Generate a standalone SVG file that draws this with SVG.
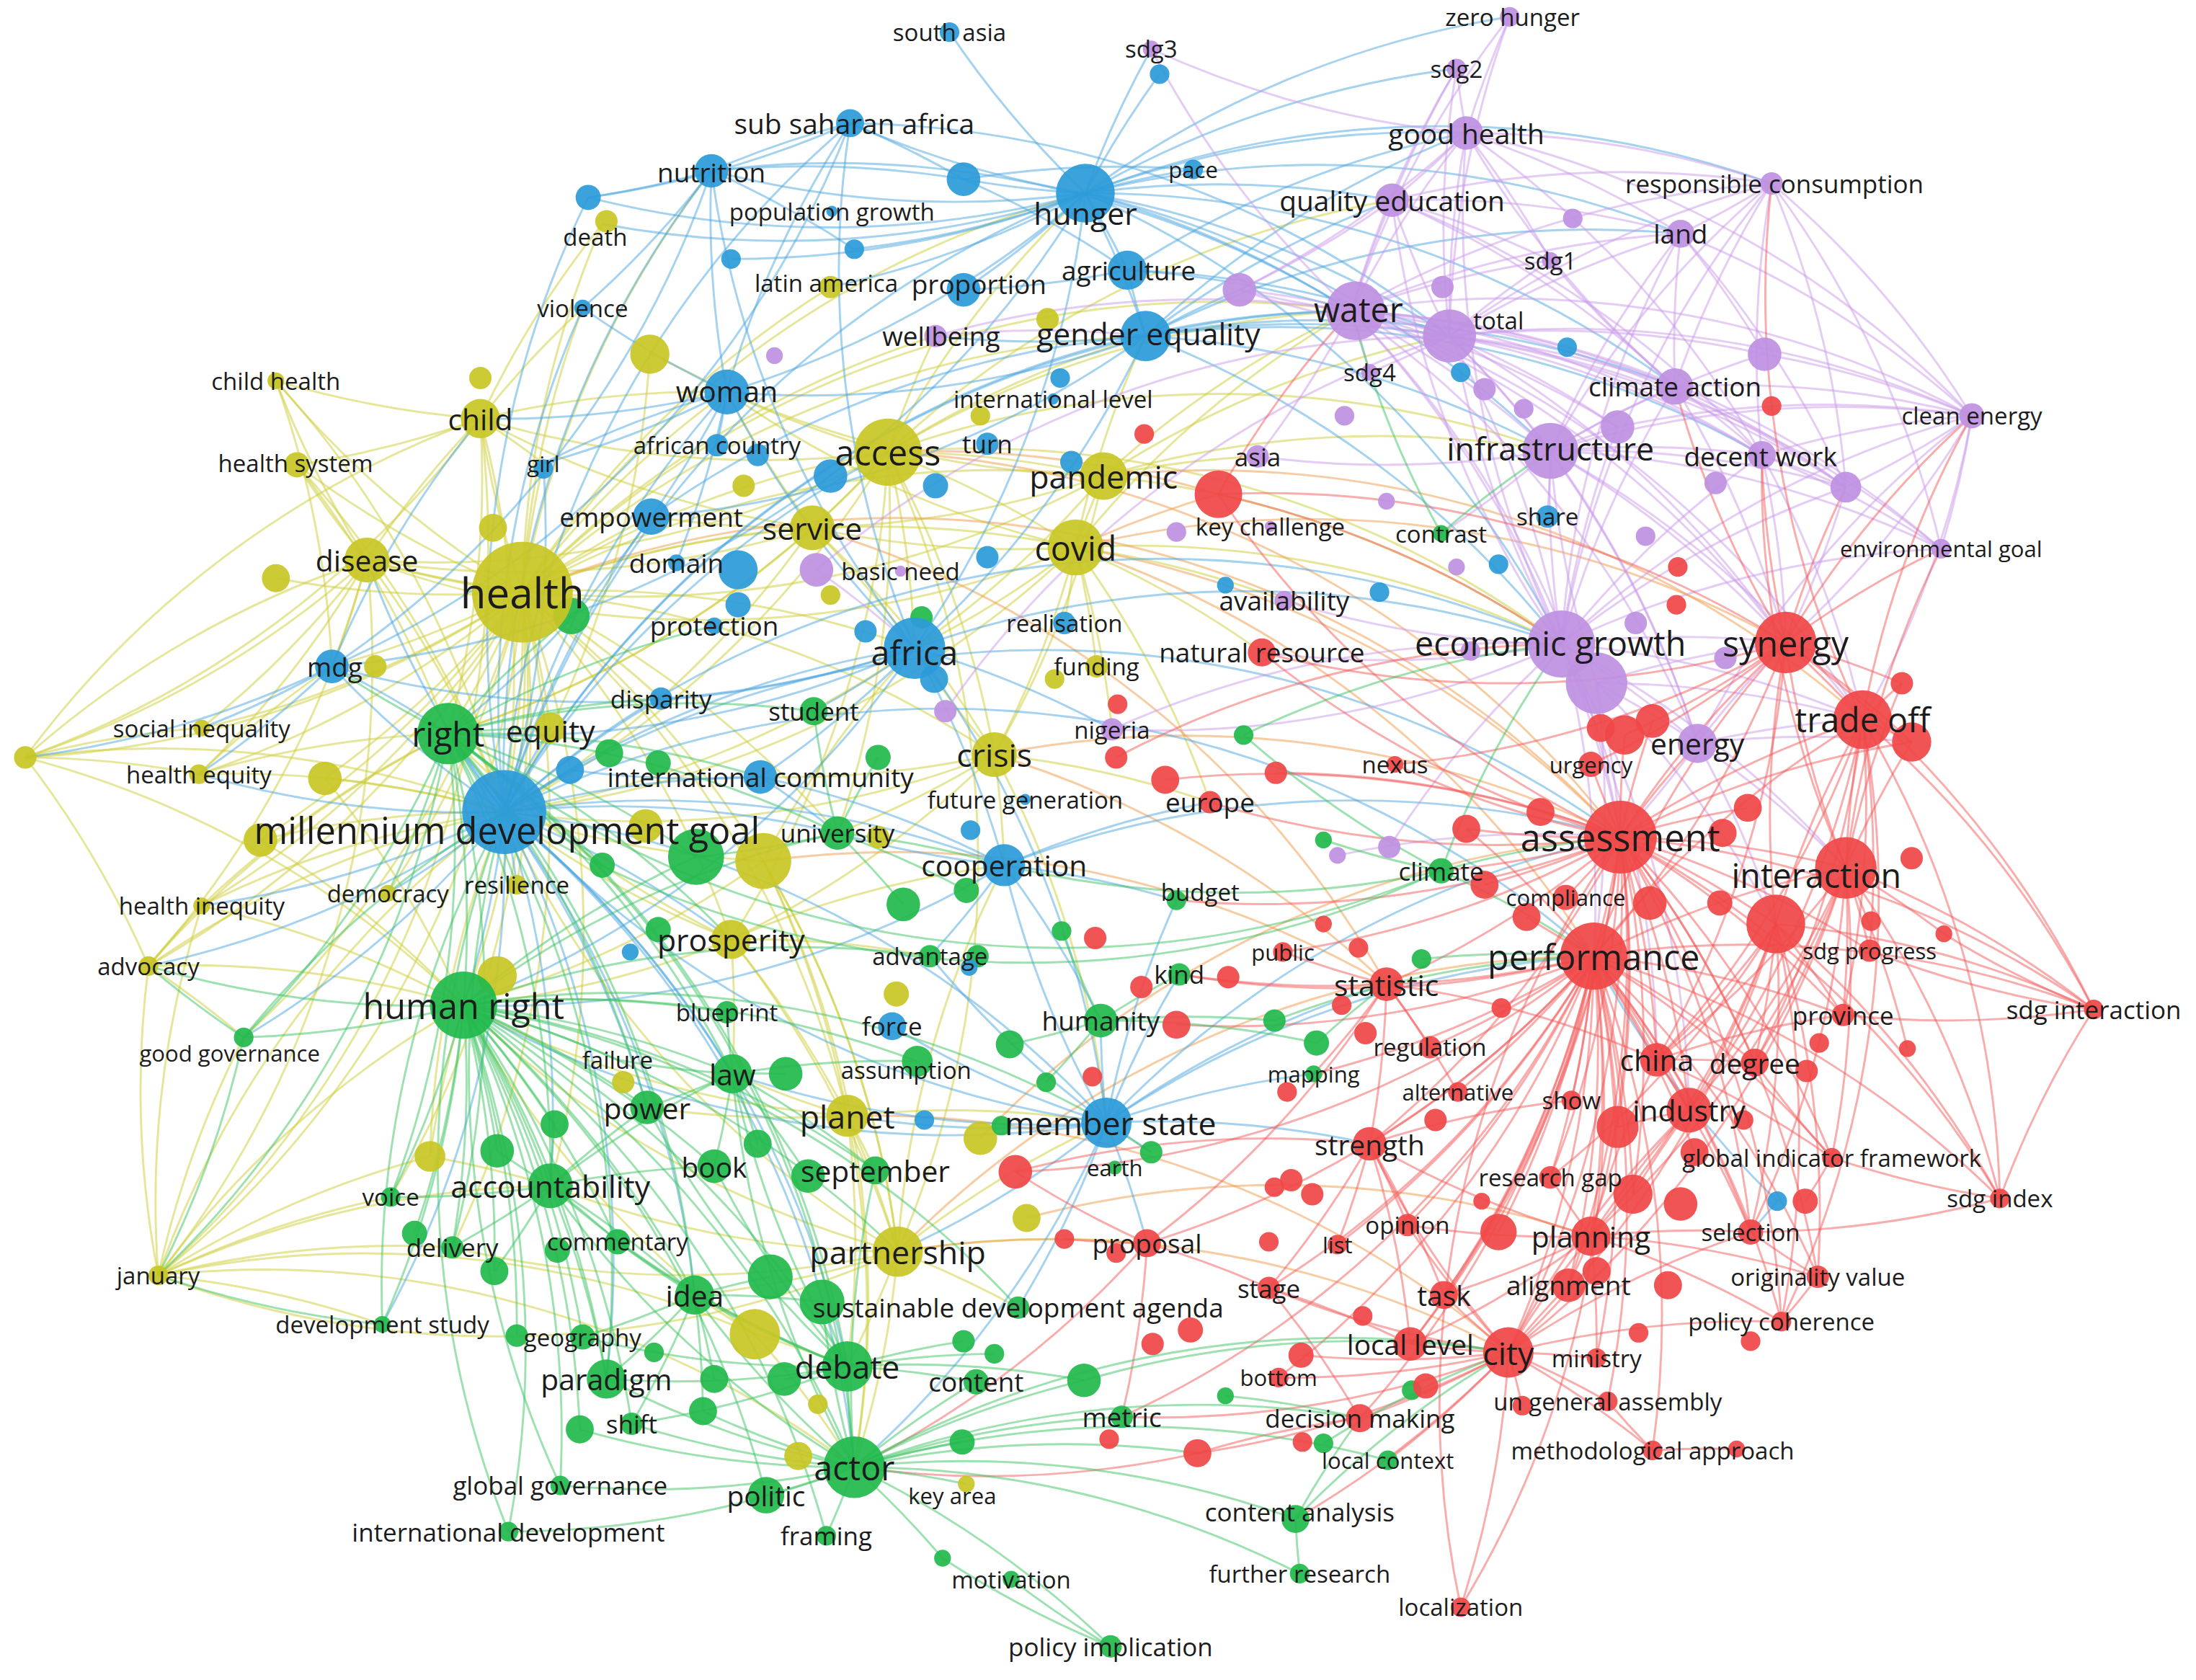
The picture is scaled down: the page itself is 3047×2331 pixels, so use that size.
<svg xmlns="http://www.w3.org/2000/svg" width="3047" height="2331" viewBox="0 0 3047 2331">
<style>
text{font-family:"Open Sans","DejaVu Sans",sans-serif;fill:#1c1c1c;text-anchor:middle;dominant-baseline:central}
circle{fill-opacity:.93}
.y circle{fill:#c8c626}
.g circle{fill:#22b94c}
.b circle{fill:#2c9bd9}
.p circle{fill:#bf91e2}
.r circle{fill:#f04747}
#connectors path{fill:none;stroke-width:1.5;stroke-opacity:.5}
.ey path{stroke:#cdcd38}
.eo path{stroke:#f29a45}
.eb path{stroke:#4aa6e0}
.ep path{stroke:#c99aea}
.er path{stroke:#f45a5a}
.eg path{stroke:#3cc462}
</style>
<rect width="3047" height="2331" fill="#fff"/>
<g transform="scale(1.9432,1.9425)" font-size="17">
<g id="connectors">
<g class="ey">
<path d="M373 423A700 700 0 0 1 343 299"/><path d="M373 423A700 700 0 0 1 262 400"/><path d="M373 423A700 700 0 0 1 237 476"/><path d="M373 423A700 700 0 0 1 320 524"/><path d="M373 423A700 700 0 0 1 393 520"/><path d="M373 423A700 700 0 0 1 360 580"/><path d="M373 423A700 700 0 0 1 331 718"/><path d="M373 423A700 700 0 0 1 634 323"/><path d="M373 423A700 700 0 0 1 580 377"/><path d="M373 423A700 700 0 0 1 768 391"/><path d="M373 423A700 700 0 0 1 788 340"/><path d="M373 423A700 700 0 0 1 212 332"/><path d="M373 423A700 700 0 0 1 197 272"/><path d="M373 423A700 700 0 0 1 144 520"/><path d="M373 423A700 700 0 0 1 142 553"/><path d="M373 423A700 700 0 0 1 144 647"/><path d="M373 423A700 700 0 0 1 106 690"/><path d="M373 423A700 700 0 0 1 113 911"/><path d="M373 423A700 700 0 0 1 174 741"/><path d="M373 423A700 700 0 0 1 519 280"/><path d="M373 423A700 700 0 0 1 430 160"/><path d="M373 423A700 700 0 0 1 416 220"/><path d="M373 423A700 700 0 0 1 710 539"/><path d="M373 423A700 700 0 0 1 653 463"/><path d="M373 423A700 700 0 0 1 393 847"/><path d="M373 423A700 700 0 0 1 605 797"/><path d="M373 423A700 700 0 0 1 641 894"/><path d="M373 423A700 700 0 0 1 522 671"/><path d="M373 423A700 700 0 0 1 668 240"/><path d="M373 423A700 700 0 0 1 818 240"/><path d="M373 423A700 700 0 0 1 18 541"/><path d="M373 423A700 700 0 0 1 965 222"/><path d="M373 423A700 700 0 0 1 775 138"/><path d="M373 423A700 700 0 0 1 508 122"/><path d="M373 423A700 700 0 0 1 465 369"/><path d="M373 423A700 700 0 0 1 472 499"/><path d="M373 423A700 700 0 0 1 277 638"/><path d="M373 423A700 700 0 0 1 279 855"/><path d="M373 423A700 700 0 0 1 323 891"/><path d="M373 423A700 700 0 0 1 598 595"/><path d="M373 423A700 700 0 0 1 369 632"/><path d="M373 423A700 700 0 0 1 388 331"/><path d="M373 423A700 700 0 0 1 593 205"/><path d="M373 423A700 700 0 0 1 232 556"/><path d="M373 423A700 700 0 0 1 186 600"/><path d="M373 423A700 700 0 0 1 197 413"/>
<path d="M634 323A700 700 0 0 1 768 391"/><path d="M634 323A700 700 0 0 1 788 340"/><path d="M634 323A700 700 0 0 1 580 377"/><path d="M634 323A700 700 0 0 1 519 280"/><path d="M634 323A700 700 0 0 1 775 138"/><path d="M634 323A700 700 0 0 1 818 240"/><path d="M634 323A700 700 0 0 1 965 222"/><path d="M634 323A700 700 0 0 1 653 463"/><path d="M634 323A700 700 0 0 1 1107 322"/><path d="M634 323A700 700 0 0 1 1115 460"/><path d="M634 323A700 700 0 0 1 262 400"/><path d="M634 323A700 700 0 0 1 320 524"/><path d="M634 323A700 700 0 0 1 360 580"/><path d="M634 323A700 700 0 0 1 710 539"/><path d="M634 323A700 700 0 0 1 522 671"/><path d="M634 323A700 700 0 0 1 598 595"/><path d="M634 323A700 700 0 0 1 641 894"/><path d="M634 323A700 700 0 0 1 668 240"/><path d="M634 323A700 700 0 0 1 994 143"/><path d="M634 323A700 700 0 0 1 343 299"/>
<path d="M768 391A700 700 0 0 1 788 340"/><path d="M768 391A700 700 0 0 1 710 539"/><path d="M768 391A700 700 0 0 1 580 377"/><path d="M768 391A700 700 0 0 1 653 463"/><path d="M768 391A700 700 0 0 1 783 476"/><path d="M768 391A700 700 0 0 1 760 445"/><path d="M768 391A700 700 0 0 1 901 466"/><path d="M768 391A700 700 0 0 1 864 573"/><path d="M768 391A700 700 0 0 1 794 521"/><path d="M768 391A700 700 0 0 1 1115 460"/><path d="M768 391A700 700 0 0 1 917 429"/><path d="M768 391A700 700 0 0 1 965 222"/><path d="M768 391A700 700 0 0 1 818 240"/><path d="M768 391A700 700 0 0 1 519 280"/><path d="M768 391A700 700 0 0 1 360 580"/><path d="M768 391A700 700 0 0 1 262 400"/>
<path d="M788 340A700 700 0 0 1 710 539"/><path d="M788 340A700 700 0 0 1 580 377"/><path d="M788 340A700 700 0 0 1 898 326"/><path d="M788 340A700 700 0 0 1 1115 460"/><path d="M788 340A700 700 0 0 1 519 280"/><path d="M788 340A700 700 0 0 1 262 400"/><path d="M788 340A700 700 0 0 1 360 580"/><path d="M788 340A700 700 0 0 1 1107 322"/><path d="M788 340A700 700 0 0 1 965 222"/><path d="M788 340A700 700 0 0 1 1035 240"/>
<path d="M580 377A700 700 0 0 1 519 280"/><path d="M580 377A700 700 0 0 1 465 369"/><path d="M580 377A700 700 0 0 1 360 580"/><path d="M580 377A700 700 0 0 1 262 400"/><path d="M580 377A700 700 0 0 1 653 463"/><path d="M580 377A700 700 0 0 1 710 539"/><path d="M580 377A700 700 0 0 1 343 299"/><path d="M580 377A700 700 0 0 1 320 524"/>
<path d="M262 400A700 700 0 0 1 343 299"/><path d="M262 400A700 700 0 0 1 212 332"/><path d="M262 400A700 700 0 0 1 197 272"/><path d="M262 400A700 700 0 0 1 237 476"/><path d="M262 400A700 700 0 0 1 360 580"/><path d="M262 400A700 700 0 0 1 18 541"/><path d="M262 400A700 700 0 0 1 142 553"/><path d="M262 400A700 700 0 0 1 106 690"/><path d="M262 400A700 700 0 0 1 113 911"/><path d="M262 400A700 700 0 0 1 144 520"/>
<path d="M343 299A700 700 0 0 1 197 272"/><path d="M343 299A700 700 0 0 1 212 332"/><path d="M343 299A700 700 0 0 1 388 331"/><path d="M343 299A700 700 0 0 1 519 280"/><path d="M343 299A700 700 0 0 1 416 220"/><path d="M343 299A700 700 0 0 1 430 160"/><path d="M343 299A700 700 0 0 1 360 580"/><path d="M343 299A700 700 0 0 1 320 524"/><path d="M343 299A700 700 0 0 1 113 911"/><path d="M343 299A700 700 0 0 1 18 541"/>
<path d="M710 539A700 700 0 0 1 653 463"/><path d="M710 539A700 700 0 0 1 543 555"/><path d="M710 539A700 700 0 0 1 717 618"/><path d="M710 539A700 700 0 0 1 790 802"/><path d="M710 539A700 700 0 0 1 864 573"/><path d="M710 539A700 700 0 0 1 598 595"/><path d="M710 539A700 700 0 0 1 522 671"/><path d="M710 539A700 700 0 0 1 360 580"/>
<path d="M522 671A700 700 0 0 1 605 797"/><path d="M522 671A700 700 0 0 1 641 894"/><path d="M522 671A700 700 0 0 1 331 718"/><path d="M522 671A700 700 0 0 1 360 580"/><path d="M522 671A700 700 0 0 1 717 618"/><path d="M522 671A700 700 0 0 1 664 683"/><path d="M522 671A700 700 0 0 1 523 767"/><path d="M522 671A700 700 0 0 1 320 524"/>
<path d="M605 797A700 700 0 0 1 641 894"/><path d="M605 797A700 700 0 0 1 625 836"/><path d="M605 797A700 700 0 0 1 610 1048"/><path d="M605 797A700 700 0 0 1 605 976"/><path d="M605 797A700 700 0 0 1 790 802"/><path d="M605 797A700 700 0 0 1 331 718"/><path d="M605 797A700 700 0 0 1 523 767"/><path d="M605 797A700 700 0 0 1 462 791"/>
<path d="M641 894A700 700 0 0 1 610 1048"/><path d="M641 894A700 700 0 0 1 605 976"/><path d="M641 894A700 700 0 0 1 727 934"/><path d="M641 894A700 700 0 0 1 496 925"/><path d="M641 894A700 700 0 0 1 790 802"/><path d="M641 894A700 700 0 0 1 717 618"/><path d="M641 894A700 700 0 0 1 360 580"/><path d="M641 894A700 700 0 0 1 331 718"/><path d="M641 894A700 700 0 0 1 393 847"/><path d="M641 894A700 700 0 0 1 819 888"/><path d="M641 894A700 700 0 0 1 113 911"/><path d="M641 894A700 700 0 0 1 323 891"/>
<path d="M113 911A700 700 0 0 1 331 718"/><path d="M113 911A700 700 0 0 1 360 580"/><path d="M113 911A700 700 0 0 1 106 690"/><path d="M113 911A700 700 0 0 1 174 741"/><path d="M113 911A700 700 0 0 1 393 847"/><path d="M113 911A700 700 0 0 1 307 826"/><path d="M113 911A700 700 0 0 1 323 891"/><path d="M113 911A700 700 0 0 1 279 855"/><path d="M113 911A700 700 0 0 1 273 946"/><path d="M113 911A700 700 0 0 1 144 647"/><path d="M113 911A700 700 0 0 1 539 953"/><path d="M113 911A700 700 0 0 1 610 1048"/>
<path d="M18 541A700 700 0 0 1 262 400"/><path d="M18 541A700 700 0 0 1 360 580"/><path d="M18 541A700 700 0 0 1 142 553"/><path d="M18 541A700 700 0 0 1 144 520"/><path d="M18 541A700 700 0 0 1 106 690"/><path d="M18 541A700 700 0 0 1 331 718"/><path d="M18 541A700 700 0 0 1 343 299"/>
<path d="M106 690A700 700 0 0 1 360 580"/><path d="M106 690A700 700 0 0 1 331 718"/><path d="M106 690A700 700 0 0 1 144 647"/><path d="M106 690A700 700 0 0 1 174 741"/><path d="M106 690A700 700 0 0 1 320 524"/>
<path d="M212 332A700 700 0 0 1 360 580"/><path d="M212 332A700 700 0 0 1 320 524"/><path d="M197 272A700 700 0 0 1 360 580"/><path d="M197 272A700 700 0 0 1 237 476"/><path d="M142 553A700 700 0 0 1 360 580"/><path d="M142 553A700 700 0 0 1 320 524"/><path d="M142 553A700 700 0 0 1 237 476"/><path d="M144 647A700 700 0 0 1 360 580"/><path d="M144 647A700 700 0 0 1 331 718"/><path d="M144 647A700 700 0 0 1 320 524"/>
<path d="M545 615A700 700 0 0 1 360 580"/><path d="M545 615A700 700 0 0 1 331 718"/><path d="M545 615A700 700 0 0 1 605 797"/><path d="M545 615A700 700 0 0 1 641 894"/><path d="M545 615A700 700 0 0 1 610 1048"/><path d="M545 615A700 700 0 0 1 653 463"/><path d="M539 953A700 700 0 0 1 610 1048"/><path d="M539 953A700 700 0 0 1 605 976"/><path d="M539 953A700 700 0 0 1 331 718"/><path d="M539 953A700 700 0 0 1 496 925"/><path d="M464 253A700 700 0 0 1 519 280"/><path d="M464 253A700 700 0 0 1 360 580"/><path d="M307 826A700 700 0 0 1 331 718"/><path d="M307 826A700 700 0 0 1 360 580"/><path d="M307 826A700 700 0 0 1 393 847"/><path d="M232 556A700 700 0 0 1 360 580"/><path d="M232 556A700 700 0 0 1 331 718"/><path d="M186 600A700 700 0 0 1 331 718"/><path d="M186 600A700 700 0 0 1 360 580"/>
</g>
<g class="eo">
<path d="M634 323A700 700 0 0 1 1157 598"/><path d="M768 391A700 700 0 0 1 1138 683"/><path d="M641 894A700 700 0 0 1 1138 683"/><path d="M710 539A700 700 0 0 1 1157 598"/><path d="M788 340A700 700 0 0 1 1330 514"/><path d="M605 797A700 700 0 0 1 1077 966"/><path d="M768 391A700 700 0 0 1 1275 459"/><path d="M580 377A700 700 0 0 1 990 703"/><path d="M710 539A700 700 0 0 1 990 703"/><path d="M641 894A700 700 0 0 1 1077 966"/><path d="M733 870A700 700 0 0 1 1136 883"/><path d="M700 813A700 700 0 0 1 1157 598"/><path d="M634 323A700 700 0 0 1 870 353"/><path d="M768 391A700 700 0 0 1 870 353"/><path d="M545 615A700 700 0 0 1 990 703"/><path d="M373 423A700 700 0 0 1 1157 598"/><path d="M768 391A700 700 0 0 1 1157 598"/>
</g>
<g class="eb">
<path d="M360 580A700 700 0 0 1 237 476"/><path d="M360 580A700 700 0 0 1 775 138"/><path d="M360 580A700 700 0 0 1 508 122"/><path d="M360 580A700 700 0 0 1 607 88"/><path d="M360 580A700 700 0 0 1 653 463"/><path d="M360 580A700 700 0 0 1 519 280"/><path d="M360 580A700 700 0 0 1 818 240"/><path d="M360 580A700 700 0 0 1 320 524"/><path d="M360 580A700 700 0 0 1 331 718"/><path d="M360 580A700 700 0 0 1 393 520"/><path d="M360 580A700 700 0 0 1 262 400"/><path d="M360 580A700 700 0 0 1 142 553"/><path d="M360 580A700 700 0 0 1 369 632"/><path d="M360 580A700 700 0 0 1 598 595"/><path d="M360 580A700 700 0 0 1 717 618"/><path d="M360 580A700 700 0 0 1 790 802"/><path d="M360 580A700 700 0 0 1 393 847"/><path d="M360 580A700 700 0 0 1 433 985"/><path d="M360 580A700 700 0 0 1 605 976"/><path d="M360 580A700 700 0 0 1 610 1048"/><path d="M360 580A700 700 0 0 1 523 767"/><path d="M360 580A700 700 0 0 1 462 791"/><path d="M360 580A700 700 0 0 1 496 925"/><path d="M360 580A700 700 0 0 1 1157 598"/><path d="M360 580A700 700 0 0 1 1138 683"/><path d="M360 580A700 700 0 0 1 1115 460"/><path d="M360 580A700 700 0 0 1 543 555"/><path d="M360 580A700 700 0 0 1 522 671"/><path d="M360 580A700 700 0 0 1 277 638"/><path d="M360 580A700 700 0 0 1 106 690"/><path d="M360 580A700 700 0 0 1 174 741"/><path d="M360 580A700 700 0 0 1 273 946"/><path d="M360 580A700 700 0 0 1 407 550"/><path d="M360 580A700 700 0 0 1 465 369"/><path d="M360 580A700 700 0 0 1 472 499"/><path d="M360 580A700 700 0 0 1 416 220"/><path d="M360 580A700 700 0 0 1 420 141"/><path d="M360 580A700 700 0 0 1 144 647"/><path d="M360 580A700 700 0 0 1 965 222"/><path d="M360 580A700 700 0 0 1 634 323"/>
<path d="M775 138A700 700 0 0 1 678 23"/><path d="M775 138A700 700 0 0 1 828 53"/><path d="M775 138A700 700 0 0 1 607 88"/><path d="M775 138A700 700 0 0 1 508 122"/><path d="M775 138A700 700 0 0 1 610 178"/><path d="M775 138A700 700 0 0 1 688 207"/><path d="M775 138A700 700 0 0 1 805 193"/><path d="M775 138A700 700 0 0 1 818 240"/><path d="M775 138A700 700 0 0 1 965 222"/><path d="M775 138A700 700 0 0 1 994 143"/><path d="M775 138A700 700 0 0 1 1047 95"/><path d="M775 138A700 700 0 0 1 1078 12"/><path d="M775 138A700 700 0 0 1 1040 49"/><path d="M775 138A700 700 0 0 1 852 121"/><path d="M775 138A700 700 0 0 1 653 463"/><path d="M775 138A700 700 0 0 1 593 205"/><path d="M775 138A700 700 0 0 1 519 280"/><path d="M775 138A700 700 0 0 1 1115 460"/><path d="M775 138A700 700 0 0 1 1107 322"/><path d="M775 138A700 700 0 0 1 1200 167"/><path d="M775 138A700 700 0 0 1 1265 131"/><path d="M775 138A700 700 0 0 1 1196 276"/><path d="M775 138A700 700 0 0 1 430 160"/><path d="M775 138A700 700 0 0 1 420 141"/><path d="M775 138A700 700 0 0 1 1035 240"/><path d="M775 138A700 700 0 0 1 688 128"/><path d="M775 138A700 700 0 0 1 522 185"/><path d="M775 138A700 700 0 0 1 237 476"/><path d="M775 138A700 700 0 0 1 822 35"/>
<path d="M818 240A700 700 0 0 1 965 222"/><path d="M818 240A700 700 0 0 1 1035 240"/><path d="M818 240A700 700 0 0 1 994 143"/><path d="M818 240A700 700 0 0 1 1047 95"/><path d="M818 240A700 700 0 0 1 1107 322"/><path d="M818 240A700 700 0 0 1 1115 460"/><path d="M818 240A700 700 0 0 1 1196 276"/><path d="M818 240A700 700 0 0 1 1258 325"/><path d="M818 240A700 700 0 0 1 653 463"/><path d="M818 240A700 700 0 0 1 519 280"/><path d="M818 240A700 700 0 0 1 805 193"/><path d="M818 240A700 700 0 0 1 465 369"/><path d="M818 240A700 700 0 0 1 668 240"/><path d="M818 240A700 700 0 0 1 1200 167"/><path d="M818 240A700 700 0 0 1 885 207"/>
<path d="M653 463A700 700 0 0 1 607 88"/><path d="M653 463A700 700 0 0 1 508 122"/><path d="M653 463A700 700 0 0 1 717 618"/><path d="M653 463A700 700 0 0 1 790 802"/><path d="M653 463A700 700 0 0 1 543 555"/><path d="M653 463A700 700 0 0 1 581 508"/><path d="M653 463A700 700 0 0 1 794 521"/><path d="M653 463A700 700 0 0 1 320 524"/><path d="M653 463A700 700 0 0 1 331 718"/><path d="M653 463A700 700 0 0 1 1115 460"/><path d="M653 463A700 700 0 0 1 519 280"/><path d="M653 463A700 700 0 0 1 237 476"/><path d="M653 463A700 700 0 0 1 472 499"/>
<path d="M519 280A700 700 0 0 1 508 122"/><path d="M519 280A700 700 0 0 1 465 369"/><path d="M519 280A700 700 0 0 1 388 331"/><path d="M519 280A700 700 0 0 1 512 318"/><path d="M519 280A700 700 0 0 1 343 299"/><path d="M519 280A700 700 0 0 1 416 220"/><path d="M519 280A700 700 0 0 1 607 88"/><path d="M519 280A700 700 0 0 1 483 402"/>
<path d="M508 122A700 700 0 0 1 607 88"/><path d="M508 122A700 700 0 0 1 420 141"/><path d="M508 122A700 700 0 0 1 688 128"/><path d="M508 122A700 700 0 0 1 610 178"/><path d="M508 122A700 700 0 0 1 416 220"/><path d="M508 122A700 700 0 0 1 237 476"/><path d="M508 122A700 700 0 0 1 965 222"/>
<path d="M607 88A700 700 0 0 1 688 128"/><path d="M607 88A700 700 0 0 1 420 141"/><path d="M607 88A700 700 0 0 1 237 476"/><path d="M607 88A700 700 0 0 1 1035 240"/>
<path d="M790 802A700 700 0 0 1 717 618"/><path d="M790 802A700 700 0 0 1 786 729"/><path d="M790 802A700 700 0 0 1 822 823"/><path d="M790 802A700 700 0 0 1 637 733"/><path d="M790 802A700 700 0 0 1 664 683"/><path d="M790 802A700 700 0 0 1 840 643"/><path d="M790 802A700 700 0 0 1 842 696"/><path d="M790 802A700 700 0 0 1 990 703"/><path d="M790 802A700 700 0 0 1 1157 598"/><path d="M790 802A700 700 0 0 1 1138 683"/><path d="M790 802A700 700 0 0 1 605 797"/><path d="M790 802A700 700 0 0 1 641 894"/><path d="M790 802A700 700 0 0 1 727 934"/><path d="M790 802A700 700 0 0 1 819 888"/><path d="M790 802A700 700 0 0 1 523 767"/><path d="M790 802A700 700 0 0 1 331 718"/><path d="M790 802A700 700 0 0 1 320 524"/><path d="M790 802A700 700 0 0 1 978 817"/><path d="M790 802A700 700 0 0 1 938 767"/><path d="M790 802A700 700 0 0 1 610 1048"/>
<path d="M717 618A700 700 0 0 1 598 595"/><path d="M717 618A700 700 0 0 1 664 683"/><path d="M717 618A700 700 0 0 1 786 729"/><path d="M717 618A700 700 0 0 1 1157 598"/><path d="M717 618A700 700 0 0 1 864 573"/><path d="M717 618A700 700 0 0 1 840 643"/><path d="M717 618A700 700 0 0 1 331 718"/>
<path d="M237 476A700 700 0 0 1 320 524"/><path d="M237 476A700 700 0 0 1 142 553"/><path d="M237 476A700 700 0 0 1 144 520"/><path d="M237 476A700 700 0 0 1 18 541"/><path d="M237 476A700 700 0 0 1 343 299"/><path d="M465 369A700 700 0 0 1 320 524"/><path d="M465 369A700 700 0 0 1 818 240"/><path d="M543 555A700 700 0 0 1 717 618"/><path d="M543 555A700 700 0 0 1 598 595"/><path d="M543 555A700 700 0 0 1 407 550"/><path d="M1269 858A700 700 0 0 1 1138 683"/><path d="M1269 858A700 700 0 0 1 1250 880"/><path d="M805 193A700 700 0 0 1 965 222"/><path d="M805 193A700 700 0 0 1 1035 240"/><path d="M805 193A700 700 0 0 1 688 207"/><path d="M805 193A700 700 0 0 1 1047 95"/><path d="M688 128A700 700 0 0 1 852 121"/><path d="M688 128A700 700 0 0 1 805 193"/><path d="M388 331A700 700 0 0 1 360 580"/><path d="M388 331A700 700 0 0 1 519 280"/>
</g>
<g class="ep">
<path d="M965 222A700 700 0 0 1 1035 240"/><path d="M965 222A700 700 0 0 1 994 143"/><path d="M965 222A700 700 0 0 1 1047 95"/><path d="M965 222A700 700 0 0 1 1107 186"/><path d="M965 222A700 700 0 0 1 1200 167"/><path d="M965 222A700 700 0 0 1 1265 131"/><path d="M965 222A700 700 0 0 1 1196 276"/><path d="M965 222A700 700 0 0 1 1107 322"/><path d="M965 222A700 700 0 0 1 1258 325"/><path d="M965 222A700 700 0 0 1 1408 297"/><path d="M965 222A700 700 0 0 1 1115 460"/><path d="M965 222A700 700 0 0 1 1212 531"/><path d="M965 222A700 700 0 0 1 978 266"/><path d="M965 222A700 700 0 0 1 1078 12"/><path d="M965 222A700 700 0 0 1 1040 49"/><path d="M965 222A700 700 0 0 1 822 35"/><path d="M965 222A700 700 0 0 1 885 207"/><path d="M965 222A700 700 0 0 1 1275 459"/><path d="M965 222A700 700 0 0 1 1330 514"/><path d="M965 222A700 700 0 0 1 1157 598"/><path d="M965 222A700 700 0 0 1 1386 392"/><path d="M965 222A700 700 0 0 1 1155 305"/><path d="M965 222A700 700 0 0 1 1318 348"/><path d="M965 222A700 700 0 0 1 898 326"/>
<path d="M1035 240A700 700 0 0 1 1047 95"/><path d="M1035 240A700 700 0 0 1 994 143"/><path d="M1035 240A700 700 0 0 1 1200 167"/><path d="M1035 240A700 700 0 0 1 1265 131"/><path d="M1035 240A700 700 0 0 1 1196 276"/><path d="M1035 240A700 700 0 0 1 1107 322"/><path d="M1035 240A700 700 0 0 1 1258 325"/><path d="M1035 240A700 700 0 0 1 1408 297"/><path d="M1035 240A700 700 0 0 1 1115 460"/><path d="M1035 240A700 700 0 0 1 1107 186"/><path d="M1035 240A700 700 0 0 1 1040 49"/><path d="M1035 240A700 700 0 0 1 1078 12"/><path d="M1035 240A700 700 0 0 1 978 266"/><path d="M1035 240A700 700 0 0 1 1155 305"/><path d="M1035 240A700 700 0 0 1 1260 253"/><path d="M1035 240A700 700 0 0 1 1318 348"/><path d="M1035 240A700 700 0 0 1 1386 392"/><path d="M1035 240A700 700 0 0 1 885 207"/><path d="M1035 240A700 700 0 0 1 1275 459"/><path d="M1035 240A700 700 0 0 1 1212 531"/>
<path d="M1115 460A700 700 0 0 1 1107 322"/><path d="M1115 460A700 700 0 0 1 1258 325"/><path d="M1115 460A700 700 0 0 1 1196 276"/><path d="M1115 460A700 700 0 0 1 1212 531"/><path d="M1115 460A700 700 0 0 1 1275 459"/><path d="M1115 460A700 700 0 0 1 1330 514"/><path d="M1115 460A700 700 0 0 1 1157 598"/><path d="M1115 460A700 700 0 0 1 1318 620"/><path d="M1115 460A700 700 0 0 1 1138 683"/><path d="M1115 460A700 700 0 0 1 901 466"/><path d="M1115 460A700 700 0 0 1 1200 167"/><path d="M1115 460A700 700 0 0 1 1408 297"/><path d="M1115 460A700 700 0 0 1 1386 392"/><path d="M1115 460A700 700 0 0 1 1265 131"/><path d="M1115 460A700 700 0 0 1 1047 95"/><path d="M1115 460A700 700 0 0 1 994 143"/><path d="M1115 460A700 700 0 0 1 1183 757"/><path d="M1115 460A700 700 0 0 1 1206 793"/><path d="M1115 460A700 700 0 0 1 1155 305"/><path d="M1115 460A700 700 0 0 1 1318 348"/><path d="M1115 460A700 700 0 0 1 917 429"/><path d="M1115 460A700 700 0 0 1 794 521"/><path d="M1115 460A700 700 0 0 1 1043 266"/>
<path d="M1140 488A700 700 0 0 1 1212 531"/><path d="M1140 488A700 700 0 0 1 1157 598"/><path d="M1140 488A700 700 0 0 1 1275 459"/><path d="M1140 488A700 700 0 0 1 1330 514"/><path d="M1140 488A700 700 0 0 1 1107 322"/><path d="M1140 488A700 700 0 0 1 1268 660"/><path d="M1140 488A700 700 0 0 1 1138 683"/>
<path d="M1107 322A700 700 0 0 1 1196 276"/><path d="M1107 322A700 700 0 0 1 1258 325"/><path d="M1107 322A700 700 0 0 1 1155 305"/><path d="M1107 322A700 700 0 0 1 1260 253"/><path d="M1107 322A700 700 0 0 1 1318 348"/><path d="M1107 322A700 700 0 0 1 1200 167"/><path d="M1107 322A700 700 0 0 1 1265 131"/><path d="M1107 322A700 700 0 0 1 1408 297"/><path d="M1107 322A700 700 0 0 1 1386 392"/><path d="M1107 322A700 700 0 0 1 1275 459"/><path d="M1107 322A700 700 0 0 1 1330 514"/><path d="M1107 322A700 700 0 0 1 1212 531"/><path d="M1107 322A700 700 0 0 1 1105 369"/><path d="M1107 322A700 700 0 0 1 1029 381"/><path d="M1107 322A700 700 0 0 1 898 326"/>
<path d="M1196 276A700 700 0 0 1 1258 325"/><path d="M1196 276A700 700 0 0 1 1265 131"/><path d="M1196 276A700 700 0 0 1 1200 167"/><path d="M1196 276A700 700 0 0 1 1408 297"/><path d="M1196 276A700 700 0 0 1 1318 348"/><path d="M1196 276A700 700 0 0 1 1275 459"/><path d="M1196 276A700 700 0 0 1 1047 95"/><path d="M1196 276A700 700 0 0 1 1107 186"/>
<path d="M1258 325A700 700 0 0 1 1408 297"/><path d="M1258 325A700 700 0 0 1 1386 392"/><path d="M1258 325A700 700 0 0 1 1275 459"/><path d="M1258 325A700 700 0 0 1 1330 514"/><path d="M1258 325A700 700 0 0 1 1318 348"/><path d="M1258 325A700 700 0 0 1 1265 131"/>
<path d="M1047 95A700 700 0 0 1 994 143"/><path d="M1047 95A700 700 0 0 1 1200 167"/><path d="M1047 95A700 700 0 0 1 1265 131"/><path d="M1047 95A700 700 0 0 1 1078 12"/><path d="M1047 95A700 700 0 0 1 1040 49"/><path d="M1047 95A700 700 0 0 1 1107 186"/><path d="M1047 95A700 700 0 0 1 822 35"/><path d="M1047 95A700 700 0 0 1 885 207"/><path d="M1047 95A700 700 0 0 1 1408 297"/><path d="M1047 95A700 700 0 0 1 1258 325"/>
<path d="M994 143A700 700 0 0 1 1200 167"/><path d="M994 143A700 700 0 0 1 1265 131"/><path d="M994 143A700 700 0 0 1 1107 186"/><path d="M994 143A700 700 0 0 1 885 207"/><path d="M994 143A700 700 0 0 1 1040 49"/><path d="M994 143A700 700 0 0 1 1258 325"/><path d="M994 143A700 700 0 0 1 1196 276"/>
<path d="M1265 131A700 700 0 0 1 1408 297"/><path d="M1265 131A700 700 0 0 1 1200 167"/><path d="M1265 131A700 700 0 0 1 1318 348"/><path d="M1265 131A700 700 0 0 1 1386 392"/><path d="M1200 167A700 700 0 0 1 1408 297"/><path d="M1200 167A700 700 0 0 1 1318 348"/><path d="M1200 167A700 700 0 0 1 1260 253"/>
<path d="M1212 531A700 700 0 0 1 1275 459"/><path d="M1212 531A700 700 0 0 1 1330 514"/><path d="M1212 531A700 700 0 0 1 1157 598"/><path d="M1212 531A700 700 0 0 1 1318 620"/><path d="M1212 531A700 700 0 0 1 1268 660"/><path d="M1212 531A700 700 0 0 1 1365 530"/><path d="M1212 531A700 700 0 0 1 1408 297"/>
<path d="M1408 297A700 700 0 0 1 1318 348"/><path d="M1408 297A700 700 0 0 1 1275 459"/><path d="M1408 297A700 700 0 0 1 1330 514"/><path d="M1408 297A700 700 0 0 1 1386 392"/>
<path d="M885 207A700 700 0 0 1 1035 240"/><path d="M668 240A700 700 0 0 1 818 240"/><path d="M668 240A700 700 0 0 1 965 222"/><path d="M583 407A700 700 0 0 1 653 463"/><path d="M583 407A700 700 0 0 1 1035 240"/><path d="M794 521A700 700 0 0 1 1115 460"/><path d="M675 508A700 700 0 0 1 1035 240"/><path d="M955 611A700 700 0 0 1 1157 598"/><path d="M992 605A700 700 0 0 1 1115 460"/><path d="M1155 305A700 700 0 0 1 1408 297"/><path d="M1260 253A700 700 0 0 1 1408 297"/><path d="M1318 348A700 700 0 0 1 1275 459"/>
</g>
<g class="er">
<path d="M1157 598A700 700 0 0 1 1275 459"/><path d="M1157 598A700 700 0 0 1 1330 514"/><path d="M1157 598A700 700 0 0 1 1318 620"/><path d="M1157 598A700 700 0 0 1 1268 660"/><path d="M1157 598A700 700 0 0 1 1138 683"/><path d="M1157 598A700 700 0 0 1 1212 531"/><path d="M1157 598A700 700 0 0 1 1136 546"/><path d="M1157 598A700 700 0 0 1 1118 641"/><path d="M1157 598A700 700 0 0 1 1029 622"/><path d="M1157 598A700 700 0 0 1 990 703"/><path d="M1157 598A700 700 0 0 1 1077 966"/><path d="M1157 598A700 700 0 0 1 1136 883"/><path d="M1157 598A700 700 0 0 1 1120 918"/><path d="M1157 598A700 700 0 0 1 1183 757"/><path d="M1157 598A700 700 0 0 1 1206 793"/><path d="M1157 598A700 700 0 0 1 1253 759"/><path d="M1157 598A700 700 0 0 1 1316 725"/><path d="M1157 598A700 700 0 0 1 1335 679"/><path d="M1157 598A700 700 0 0 1 1495 721"/><path d="M1157 598A700 700 0 0 1 1308 827"/><path d="M1157 598A700 700 0 0 1 1428 856"/><path d="M1157 598A700 700 0 0 1 1107 841"/><path d="M1157 598A700 700 0 0 1 1250 880"/><path d="M1157 598A700 700 0 0 1 1298 912"/><path d="M1157 598A700 700 0 0 1 1272 944"/><path d="M1157 598A700 700 0 0 1 996 546"/><path d="M1157 598A700 700 0 0 1 864 573"/><path d="M1157 598A700 700 0 0 1 901 466"/><path d="M1157 598A700 700 0 0 1 840 643"/><path d="M1157 598A700 700 0 0 1 916 680"/><path d="M1157 598A700 700 0 0 1 978 817"/><path d="M1157 598A700 700 0 0 1 1031 925"/><path d="M1157 598A700 700 0 0 1 1007 960"/><path d="M1157 598A700 700 0 0 1 1365 530"/><path d="M1157 598A700 700 0 0 1 1047 592"/><path d="M1157 598A700 700 0 0 1 1060 632"/><path d="M1157 598A700 700 0 0 1 1160 525"/><path d="M1157 598A700 700 0 0 1 1180 515"/><path d="M1157 598A700 700 0 0 1 1248 577"/><path d="M1157 598A700 700 0 0 1 870 353"/><path d="M1157 598A700 700 0 0 1 1155 805"/><path d="M1157 598A700 700 0 0 1 1166 853"/>
<path d="M1138 683A700 700 0 0 1 990 703"/><path d="M1138 683A700 700 0 0 1 1021 748"/><path d="M1138 683A700 700 0 0 1 1183 757"/><path d="M1138 683A700 700 0 0 1 1206 793"/><path d="M1138 683A700 700 0 0 1 1253 759"/><path d="M1138 683A700 700 0 0 1 1077 966"/><path d="M1138 683A700 700 0 0 1 1136 883"/><path d="M1138 683A700 700 0 0 1 1120 918"/><path d="M1138 683A700 700 0 0 1 978 817"/><path d="M1138 683A700 700 0 0 1 1005 875"/><path d="M1138 683A700 700 0 0 1 819 888"/><path d="M1138 683A700 700 0 0 1 906 920"/><path d="M1138 683A700 700 0 0 1 1031 925"/><path d="M1138 683A700 700 0 0 1 1007 960"/><path d="M1138 683A700 700 0 0 1 971 1013"/><path d="M1138 683A700 700 0 0 1 1140 970"/><path d="M1138 683A700 700 0 0 1 1148 1001"/><path d="M1138 683A700 700 0 0 1 1180 1036"/><path d="M1138 683A700 700 0 0 1 1250 880"/><path d="M1138 683A700 700 0 0 1 1298 912"/><path d="M1138 683A700 700 0 0 1 1272 944"/><path d="M1138 683A700 700 0 0 1 1107 841"/><path d="M1138 683A700 700 0 0 1 1122 786"/><path d="M1138 683A700 700 0 0 1 1041 780"/><path d="M1138 683A700 700 0 0 1 938 767"/><path d="M1138 683A700 700 0 0 1 842 696"/><path d="M1138 683A700 700 0 0 1 1318 620"/><path d="M1138 683A700 700 0 0 1 1275 459"/><path d="M1138 683A700 700 0 0 1 1330 514"/><path d="M1138 683A700 700 0 0 1 1495 721"/><path d="M1138 683A700 700 0 0 1 1428 856"/><path d="M1138 683A700 700 0 0 1 1316 725"/><path d="M1138 683A700 700 0 0 1 1308 827"/><path d="M1138 683A700 700 0 0 1 801 1012"/><path d="M1138 683A700 700 0 0 1 913 984"/><path d="M1138 683A700 700 0 0 1 1155 805"/><path d="M1138 683A700 700 0 0 1 1210 823"/><path d="M1138 683A700 700 0 0 1 1166 853"/><path d="M1138 683A700 700 0 0 1 1070 880"/><path d="M1138 683A700 700 0 0 1 725 837"/><path d="M1138 683A700 700 0 0 1 840 732"/><path d="M1138 683A700 700 0 0 1 1090 655"/><path d="M1138 683A700 700 0 0 1 955 889"/><path d="M1138 683A700 700 0 0 1 1043 1148"/>
<path d="M1318 620A700 700 0 0 1 1275 459"/><path d="M1318 620A700 700 0 0 1 1330 514"/><path d="M1318 620A700 700 0 0 1 1495 721"/><path d="M1318 620A700 700 0 0 1 1335 679"/><path d="M1318 620A700 700 0 0 1 1316 725"/><path d="M1318 620A700 700 0 0 1 1253 759"/><path d="M1318 620A700 700 0 0 1 1183 757"/><path d="M1318 620A700 700 0 0 1 1206 793"/><path d="M1318 620A700 700 0 0 1 1428 856"/><path d="M1318 620A700 700 0 0 1 1308 827"/><path d="M1318 620A700 700 0 0 1 1250 880"/><path d="M1318 620A700 700 0 0 1 1386 392"/><path d="M1318 620A700 700 0 0 1 1258 325"/><path d="M1318 620A700 700 0 0 1 1365 530"/><path d="M1318 620A700 700 0 0 1 1388 667"/><path d="M1318 620A700 700 0 0 1 1136 883"/><path d="M1318 620A700 700 0 0 1 1077 966"/><path d="M1318 620A700 700 0 0 1 1362 749"/><path d="M1318 620A700 700 0 0 1 1358 488"/>
<path d="M1268 660A700 700 0 0 1 1275 459"/><path d="M1268 660A700 700 0 0 1 1330 514"/><path d="M1268 660A700 700 0 0 1 1183 757"/><path d="M1268 660A700 700 0 0 1 1206 793"/><path d="M1268 660A700 700 0 0 1 1253 759"/><path d="M1268 660A700 700 0 0 1 1316 725"/><path d="M1268 660A700 700 0 0 1 1136 883"/><path d="M1268 660A700 700 0 0 1 1250 880"/><path d="M1268 660A700 700 0 0 1 1298 912"/><path d="M1268 660A700 700 0 0 1 1428 856"/><path d="M1268 660A700 700 0 0 1 1495 721"/><path d="M1268 660A700 700 0 0 1 1077 966"/><path d="M1268 660A700 700 0 0 1 1272 944"/><path d="M1268 660A700 700 0 0 1 1107 841"/>
<path d="M1275 459A700 700 0 0 1 1330 514"/><path d="M1275 459A700 700 0 0 1 1258 325"/><path d="M1275 459A700 700 0 0 1 1196 276"/><path d="M1275 459A700 700 0 0 1 1408 297"/><path d="M1275 459A700 700 0 0 1 1386 392"/><path d="M1275 459A700 700 0 0 1 1318 348"/><path d="M1275 459A700 700 0 0 1 1495 721"/><path d="M1275 459A700 700 0 0 1 996 546"/><path d="M1275 459A700 700 0 0 1 1136 546"/><path d="M1275 459A700 700 0 0 1 901 466"/><path d="M1275 459A700 700 0 0 1 1358 488"/><path d="M1275 459A700 700 0 0 1 1365 530"/><path d="M1275 459A700 700 0 0 1 1160 525"/><path d="M1275 459A700 700 0 0 1 1138 683"/><path d="M1275 459A700 700 0 0 1 1183 757"/>
<path d="M1330 514A700 700 0 0 1 1495 721"/><path d="M1330 514A700 700 0 0 1 1428 856"/><path d="M1330 514A700 700 0 0 1 1365 530"/><path d="M1330 514A700 700 0 0 1 1358 488"/><path d="M1330 514A700 700 0 0 1 1335 679"/><path d="M1330 514A700 700 0 0 1 1316 725"/><path d="M1330 514A700 700 0 0 1 1183 757"/><path d="M1330 514A700 700 0 0 1 1206 793"/><path d="M1330 514A700 700 0 0 1 1253 759"/><path d="M1330 514A700 700 0 0 1 1272 944"/><path d="M1330 514A700 700 0 0 1 1408 297"/><path d="M1330 514A700 700 0 0 1 1265 131"/>
<path d="M1077 966A700 700 0 0 1 1007 960"/><path d="M1077 966A700 700 0 0 1 1031 925"/><path d="M1077 966A700 700 0 0 1 1136 883"/><path d="M1077 966A700 700 0 0 1 1120 918"/><path d="M1077 966A700 700 0 0 1 1140 970"/><path d="M1077 966A700 700 0 0 1 1148 1001"/><path d="M1077 966A700 700 0 0 1 971 1013"/><path d="M1077 966A700 700 0 0 1 991 1043"/><path d="M1077 966A700 700 0 0 1 1043 1148"/><path d="M1077 966A700 700 0 0 1 1180 1036"/><path d="M1077 966A700 700 0 0 1 913 984"/><path d="M1077 966A700 700 0 0 1 906 920"/><path d="M1077 966A700 700 0 0 1 801 1012"/><path d="M1077 966A700 700 0 0 1 925 1085"/><path d="M1077 966A700 700 0 0 1 978 817"/><path d="M1077 966A700 700 0 0 1 1005 875"/><path d="M1077 966A700 700 0 0 1 1272 944"/><path d="M1077 966A700 700 0 0 1 1250 880"/><path d="M1077 966A700 700 0 0 1 1087 1004"/><path d="M1077 966A700 700 0 0 1 855 1038"/><path d="M1077 966A700 700 0 0 1 1206 793"/><path d="M1077 966A700 700 0 0 1 929 968"/>
<path d="M1136 883A700 700 0 0 1 1120 918"/><path d="M1136 883A700 700 0 0 1 1007 960"/><path d="M1136 883A700 700 0 0 1 1031 925"/><path d="M1136 883A700 700 0 0 1 1250 880"/><path d="M1136 883A700 700 0 0 1 1298 912"/><path d="M1136 883A700 700 0 0 1 1272 944"/><path d="M1136 883A700 700 0 0 1 1183 757"/><path d="M1136 883A700 700 0 0 1 1206 793"/><path d="M1136 883A700 700 0 0 1 1107 841"/><path d="M1136 883A700 700 0 0 1 1005 875"/><path d="M1136 883A700 700 0 0 1 978 817"/><path d="M1136 883A700 700 0 0 1 1140 970"/>
<path d="M990 703A700 700 0 0 1 1021 748"/><path d="M990 703A700 700 0 0 1 978 817"/><path d="M990 703A700 700 0 0 1 842 696"/><path d="M990 703A700 700 0 0 1 916 680"/><path d="M990 703A700 700 0 0 1 938 767"/><path d="M990 703A700 700 0 0 1 1041 780"/><path d="M990 703A700 700 0 0 1 1183 757"/><path d="M990 703A700 700 0 0 1 819 888"/>
<path d="M978 817A700 700 0 0 1 1005 875"/><path d="M978 817A700 700 0 0 1 955 889"/><path d="M978 817A700 700 0 0 1 906 920"/><path d="M978 817A700 700 0 0 1 1007 960"/><path d="M978 817A700 700 0 0 1 1031 925"/><path d="M978 817A700 700 0 0 1 1122 786"/>
<path d="M1183 757A700 700 0 0 1 1253 759"/><path d="M1183 757A700 700 0 0 1 1206 793"/><path d="M1183 757A700 700 0 0 1 1316 725"/><path d="M1183 757A700 700 0 0 1 1308 827"/><path d="M1183 757A700 700 0 0 1 1250 880"/>
<path d="M819 888A700 700 0 0 1 906 920"/><path d="M819 888A700 700 0 0 1 725 837"/><path d="M819 888A700 700 0 0 1 760 885"/><path d="M819 888A700 700 0 0 1 801 1012"/><path d="M819 888A700 700 0 0 1 610 1048"/><path d="M906 920A700 700 0 0 1 1007 960"/><path d="M906 920A700 700 0 0 1 971 1013"/><path d="M855 1038A700 700 0 0 1 971 1013"/><path d="M855 1038A700 700 0 0 1 610 1048"/><path d="M870 353A700 700 0 0 1 1115 460"/><path d="M870 353A700 700 0 0 1 965 222"/><path d="M870 353A700 700 0 0 1 1275 459"/><path d="M725 837A700 700 0 0 1 978 817"/><path d="M1043 1148A700 700 0 0 1 1157 598"/><path d="M1428 856A700 700 0 0 1 1308 827"/><path d="M1428 856A700 700 0 0 1 1495 721"/><path d="M1428 856A700 700 0 0 1 1250 880"/><path d="M1495 721A700 700 0 0 1 1316 725"/><path d="M1495 721A700 700 0 0 1 1335 679"/><path d="M1495 721A700 700 0 0 1 1388 667"/><path d="M1180 1036A700 700 0 0 1 1240 1035"/><path d="M1180 1036A700 700 0 0 1 1148 1001"/><path d="M1308 827A700 700 0 0 1 1253 759"/><path d="M1308 827A700 700 0 0 1 1289 858"/><path d="M1298 912A700 700 0 0 1 1272 944"/><path d="M1298 912A700 700 0 0 1 1250 880"/><path d="M1166 853A700 700 0 0 1 1206 793"/><path d="M1155 805A700 700 0 0 1 1206 793"/><path d="M832 557A700 700 0 0 1 1157 598"/><path d="M797 541A700 700 0 0 1 1115 460"/><path d="M911 552A700 700 0 0 1 1157 598"/><path d="M1047 592A700 700 0 0 1 1138 683"/>
</g>
<g class="eg">
<path d="M320 524A700 700 0 0 1 331 718"/><path d="M320 524A700 700 0 0 1 393 520"/><path d="M320 524A700 700 0 0 1 393 847"/><path d="M320 524A700 700 0 0 1 523 767"/><path d="M320 524A700 700 0 0 1 462 791"/><path d="M320 524A700 700 0 0 1 277 638"/><path d="M320 524A700 700 0 0 1 369 632"/><path d="M320 524A700 700 0 0 1 174 741"/><path d="M320 524A700 700 0 0 1 598 595"/><path d="M320 524A700 700 0 0 1 581 508"/><path d="M320 524A700 700 0 0 1 522 671"/><path d="M320 524A700 700 0 0 1 496 925"/><path d="M320 524A700 700 0 0 1 605 976"/><path d="M320 524A700 700 0 0 1 610 1048"/><path d="M320 524A700 700 0 0 1 433 985"/><path d="M320 524A700 700 0 0 1 279 855"/><path d="M320 524A700 700 0 0 1 323 891"/><path d="M320 524A700 700 0 0 1 113 911"/><path d="M320 524A700 700 0 0 1 543 555"/><path d="M320 524A700 700 0 0 1 510 447"/><path d="M320 524A700 700 0 0 1 472 499"/><path d="M320 524A700 700 0 0 1 237 476"/><path d="M320 524A700 700 0 0 1 408 440"/><path d="M320 524A700 700 0 0 1 497 612"/><path d="M320 524A700 700 0 0 1 430 618"/>
<path d="M331 718A700 700 0 0 1 393 847"/><path d="M331 718A700 700 0 0 1 523 767"/><path d="M331 718A700 700 0 0 1 462 791"/><path d="M331 718A700 700 0 0 1 510 833"/><path d="M331 718A700 700 0 0 1 496 925"/><path d="M331 718A700 700 0 0 1 605 976"/><path d="M331 718A700 700 0 0 1 610 1048"/><path d="M331 718A700 700 0 0 1 433 985"/><path d="M331 718A700 700 0 0 1 416 955"/><path d="M331 718A700 700 0 0 1 451 1017"/><path d="M331 718A700 700 0 0 1 273 946"/><path d="M331 718A700 700 0 0 1 400 1061"/><path d="M331 718A700 700 0 0 1 363 1094"/><path d="M331 718A700 700 0 0 1 279 855"/><path d="M331 718A700 700 0 0 1 323 891"/><path d="M331 718A700 700 0 0 1 441 887"/><path d="M331 718A700 700 0 0 1 174 741"/><path d="M331 718A700 700 0 0 1 106 690"/><path d="M331 718A700 700 0 0 1 441 757"/><path d="M331 718A700 700 0 0 1 519 723"/><path d="M331 718A700 700 0 0 1 625 836"/><path d="M331 718A700 700 0 0 1 641 894"/><path d="M331 718A700 700 0 0 1 598 595"/><path d="M331 718A700 700 0 0 1 727 934"/><path d="M331 718A700 700 0 0 1 790 802"/><path d="M331 718A700 700 0 0 1 547 1068"/><path d="M331 718A700 700 0 0 1 590 1097"/><path d="M331 718A700 700 0 0 1 355 822"/><path d="M331 718A700 700 0 0 1 396 803"/><path d="M331 718A700 700 0 0 1 353 908"/><path d="M331 718A700 700 0 0 1 296 881"/><path d="M331 718A700 700 0 0 1 369 954"/><path d="M331 718A700 700 0 0 1 414 1021"/><path d="M331 718A700 700 0 0 1 497 612"/><path d="M331 718A700 700 0 0 1 664 683"/><path d="M331 718A700 700 0 0 1 655 758"/>
<path d="M610 1048A700 700 0 0 1 605 976"/><path d="M610 1048A700 700 0 0 1 547 1068"/><path d="M610 1048A700 700 0 0 1 590 1097"/><path d="M610 1048A700 700 0 0 1 690 1060"/><path d="M610 1048A700 700 0 0 1 697 987"/><path d="M610 1048A700 700 0 0 1 801 1012"/><path d="M610 1048A700 700 0 0 1 587 930"/><path d="M610 1048A700 700 0 0 1 496 925"/><path d="M610 1048A700 700 0 0 1 433 985"/><path d="M610 1048A700 700 0 0 1 451 1017"/><path d="M610 1048A700 700 0 0 1 400 1061"/><path d="M610 1048A700 700 0 0 1 363 1094"/><path d="M610 1048A700 700 0 0 1 625 836"/><path d="M610 1048A700 700 0 0 1 523 767"/><path d="M610 1048A700 700 0 0 1 393 847"/><path d="M610 1048A700 700 0 0 1 793 1176"/><path d="M610 1048A700 700 0 0 1 925 1085"/><path d="M610 1048A700 700 0 0 1 971 1013"/><path d="M610 1048A700 700 0 0 1 991 1043"/><path d="M610 1048A700 700 0 0 1 928 1124"/><path d="M610 1048A700 700 0 0 1 1077 966"/><path d="M610 1048A700 700 0 0 1 673 1113"/><path d="M610 1048A700 700 0 0 1 687 1030"/><path d="M610 1048A700 700 0 0 1 774 986"/><path d="M610 1048A700 700 0 0 1 502 1008"/><path d="M610 1048A700 700 0 0 1 414 1021"/><path d="M610 1048A700 700 0 0 1 855 1038"/>
<path d="M605 976A700 700 0 0 1 433 985"/><path d="M605 976A700 700 0 0 1 496 925"/><path d="M605 976A700 700 0 0 1 587 930"/><path d="M605 976A700 700 0 0 1 697 987"/><path d="M605 976A700 700 0 0 1 416 955"/><path d="M605 976A700 700 0 0 1 451 1017"/><path d="M605 976A700 700 0 0 1 523 767"/><path d="M605 976A700 700 0 0 1 510 833"/><path d="M605 976A700 700 0 0 1 462 791"/><path d="M605 976A700 700 0 0 1 393 847"/><path d="M605 976A700 700 0 0 1 441 887"/><path d="M605 976A700 700 0 0 1 688 958"/><path d="M605 976A700 700 0 0 1 710 967"/><path d="M605 976A700 700 0 0 1 774 986"/><path d="M605 976A700 700 0 0 1 560 985"/>
<path d="M393 847A700 700 0 0 1 462 791"/><path d="M393 847A700 700 0 0 1 510 833"/><path d="M393 847A700 700 0 0 1 523 767"/><path d="M393 847A700 700 0 0 1 441 887"/><path d="M393 847A700 700 0 0 1 323 891"/><path d="M393 847A700 700 0 0 1 279 855"/><path d="M393 847A700 700 0 0 1 496 925"/><path d="M393 847A700 700 0 0 1 433 985"/><path d="M393 847A700 700 0 0 1 355 822"/><path d="M393 847A700 700 0 0 1 396 803"/><path d="M393 847A700 700 0 0 1 353 908"/>
<path d="M523 767A700 700 0 0 1 462 791"/><path d="M523 767A700 700 0 0 1 510 833"/><path d="M523 767A700 700 0 0 1 625 836"/><path d="M523 767A700 700 0 0 1 561 767"/><path d="M523 767A700 700 0 0 1 541 817"/><path d="M523 767A700 700 0 0 1 655 758"/><path d="M523 767A700 700 0 0 1 519 723"/><path d="M523 767A700 700 0 0 1 441 757"/><path d="M523 767A700 700 0 0 1 577 840"/>
<path d="M496 925A700 700 0 0 1 433 985"/><path d="M496 925A700 700 0 0 1 416 955"/><path d="M496 925A700 700 0 0 1 587 930"/><path d="M496 925A700 700 0 0 1 550 912"/><path d="M496 925A700 700 0 0 1 441 887"/><path d="M496 925A700 700 0 0 1 451 1017"/><path d="M496 925A700 700 0 0 1 510 985"/><path d="M496 925A700 700 0 0 1 502 1008"/>
<path d="M598 595A700 700 0 0 1 497 612"/><path d="M598 595A700 700 0 0 1 581 508"/><path d="M598 595A700 700 0 0 1 690 636"/><path d="M598 595A700 700 0 0 1 645 646"/><path d="M598 595A700 700 0 0 1 627 541"/><path d="M598 595A700 700 0 0 1 717 618"/>
<path d="M786 729A700 700 0 0 1 842 696"/><path d="M786 729A700 700 0 0 1 721 746"/><path d="M786 729A700 700 0 0 1 747 773"/><path d="M786 729A700 700 0 0 1 910 729"/><path d="M786 729A700 700 0 0 1 940 745"/><path d="M786 729A700 700 0 0 1 758 665"/>
<path d="M1029 622A700 700 0 0 1 888 525"/><path d="M1029 622A700 700 0 0 1 945 600"/><path d="M1029 622A700 700 0 0 1 360 580"/><path d="M1029 622A700 700 0 0 1 717 618"/><path d="M1029 622A700 700 0 0 1 1157 598"/><path d="M1029 622A700 700 0 0 1 1138 683"/><path d="M1029 622A700 700 0 0 1 1115 460"/><path d="M1029 622A700 700 0 0 1 320 524"/>
<path d="M910 729A700 700 0 0 1 1138 683"/><path d="M940 745A700 700 0 0 1 990 703"/><path d="M822 823A700 700 0 0 1 790 802"/><path d="M774 986A700 700 0 0 1 1077 966"/><path d="M875 997A700 700 0 0 1 971 1013"/><path d="M945 1031A700 700 0 0 1 1077 966"/><path d="M1015 685A700 700 0 0 1 1138 683"/><path d="M793 1176A700 700 0 0 1 673 1113"/><path d="M793 1176A700 700 0 0 1 722 1128"/><path d="M925 1085A700 700 0 0 1 971 1013"/><path d="M925 1085A700 700 0 0 1 1077 966"/><path d="M928 1124A700 700 0 0 1 925 1085"/><path d="M174 741A700 700 0 0 1 113 911"/><path d="M174 741A700 700 0 0 1 106 690"/><path d="M174 741A700 700 0 0 1 360 580"/><path d="M273 946A700 700 0 0 1 360 580"/><path d="M273 946A700 700 0 0 1 113 911"/><path d="M400 1061A700 700 0 0 1 360 580"/><path d="M363 1094A700 700 0 0 1 360 580"/><path d="M1029 381A700 700 0 0 1 1107 322"/><path d="M1029 381A700 700 0 0 1 965 222"/><path d="M888 525A700 700 0 0 1 1115 460"/>
</g>
</g>
<g id="nodes">
<g id="n-u01" class="y"><circle cx="18" cy="541" r="8"/></g>
<g id="n-u02" class="y"><circle cx="197" cy="413" r="10"/></g>
<g id="n-u03" class="y"><circle cx="232" cy="556" r="12"/></g>
<g id="n-u04" class="y"><circle cx="186" cy="600" r="12"/></g>
<g id="n-u05" class="y"><circle cx="352" cy="377" r="10"/></g>
<g id="n-u06" class="y"><circle cx="343" cy="270" r="8"/></g>
<g id="n-u07" class="y"><circle cx="464" cy="253" r="14"/></g>
<g id="n-u08" class="y"><circle cx="545" cy="615" r="20"/></g>
<g id="n-u09" class="y"><circle cx="539" cy="953" r="18"/></g>
<g id="n-u10" class="y"><circle cx="307" cy="826" r="11"/></g>
<g id="n-u11" class="y"><circle cx="700" cy="813" r="12"/></g>
<g id="n-u12" class="y"><circle cx="733" cy="870" r="10"/></g>
<g id="n-u13" class="y"><circle cx="355" cy="697" r="14"/></g>
<g id="n-u14" class="y"><circle cx="461" cy="590" r="12"/></g>
<g id="n-u15" class="y"><circle cx="531" cy="347" r="8"/></g>
<g id="n-u16" class="y"><circle cx="700" cy="297" r="7"/></g>
<g id="n-u17" class="y"><circle cx="748" cy="228" r="8"/></g>
<g id="n-u18" class="y"><circle cx="593" cy="425" r="7"/></g>
<g id="n-u19" class="y"><circle cx="640" cy="710" r="9"/></g>
<g id="n-u20" class="y"><circle cx="570" cy="1040" r="10"/></g>
<g id="n-u21" class="y"><circle cx="584" cy="1003" r="7"/></g>
<g id="n-u22" class="y"><circle cx="268" cy="476" r="8"/></g>
<g id="n-u23" class="y"><circle cx="753" cy="485" r="7"/></g>
<g id="n-u24" class="y"><circle cx="627" cy="598" r="8"/></g>
<g id="n-u25" class="g"><circle cx="408" cy="440" r="13"/></g>
<g id="n-u26" class="g"><circle cx="497" cy="612" r="20"/></g>
<g id="n-u27" class="g"><circle cx="430" cy="618" r="9"/></g>
<g id="n-u28" class="g"><circle cx="470" cy="664" r="9"/></g>
<g id="n-u29" class="g"><circle cx="627" cy="541" r="9"/></g>
<g id="n-u30" class="g"><circle cx="658" cy="441" r="8"/></g>
<g id="n-u31" class="g"><circle cx="690" cy="636" r="9"/></g>
<g id="n-u32" class="g"><circle cx="645" cy="646" r="12"/></g>
<g id="n-u33" class="g"><circle cx="698" cy="683" r="8"/></g>
<g id="n-u34" class="g"><circle cx="721" cy="746" r="10"/></g>
<g id="n-u35" class="g"><circle cx="747" cy="773" r="7"/></g>
<g id="n-u36" class="g"><circle cx="758" cy="665" r="7"/></g>
<g id="n-u37" class="g"><circle cx="822" cy="823" r="8"/></g>
<g id="n-u38" class="g"><circle cx="715" cy="804" r="7"/></g>
<g id="n-u39" class="g"><circle cx="910" cy="729" r="8"/></g>
<g id="n-u40" class="g"><circle cx="940" cy="745" r="9"/></g>
<g id="n-u41" class="g"><circle cx="1015" cy="685" r="7"/></g>
<g id="n-u42" class="g"><circle cx="888" cy="525" r="7"/></g>
<g id="n-u43" class="g"><circle cx="945" cy="600" r="6"/></g>
<g id="n-u44" class="g"><circle cx="561" cy="767" r="12"/></g>
<g id="n-u45" class="g"><circle cx="541" cy="817" r="10"/></g>
<g id="n-u46" class="g"><circle cx="577" cy="840" r="12"/></g>
<g id="n-u47" class="g"><circle cx="355" cy="822" r="12"/></g>
<g id="n-u48" class="g"><circle cx="396" cy="803" r="10"/></g>
<g id="n-u49" class="g"><circle cx="398" cy="893" r="9"/></g>
<g id="n-u50" class="g"><circle cx="353" cy="908" r="10"/></g>
<g id="n-u51" class="g"><circle cx="296" cy="881" r="9"/></g>
<g id="n-u52" class="g"><circle cx="369" cy="954" r="8"/></g>
<g id="n-u53" class="g"><circle cx="414" cy="1021" r="10"/></g>
<g id="n-u54" class="g"><circle cx="467" cy="966" r="7"/></g>
<g id="n-u55" class="g"><circle cx="510" cy="985" r="10"/></g>
<g id="n-u56" class="g"><circle cx="502" cy="1008" r="10"/></g>
<g id="n-u57" class="g"><circle cx="550" cy="912" r="16"/></g>
<g id="n-u58" class="g"><circle cx="587" cy="930" r="16"/></g>
<g id="n-u59" class="g"><circle cx="560" cy="985" r="12"/></g>
<g id="n-u60" class="g"><circle cx="687" cy="1030" r="9"/></g>
<g id="n-u61" class="g"><circle cx="688" cy="958" r="8"/></g>
<g id="n-u62" class="g"><circle cx="710" cy="967" r="7"/></g>
<g id="n-u63" class="g"><circle cx="774" cy="986" r="12"/></g>
<g id="n-u64" class="g"><circle cx="875" cy="997" r="6"/></g>
<g id="n-u65" class="g"><circle cx="945" cy="1031" r="7"/></g>
<g id="n-u66" class="g"><circle cx="1008" cy="993" r="7"/></g>
<g id="n-u67" class="g"><circle cx="435" cy="538" r="10"/></g>
<g id="n-u68" class="g"><circle cx="470" cy="545" r="9"/></g>
<g id="n-u69" class="g"><circle cx="673" cy="1113" r="6"/></g>
<g id="n-u70" class="b"><circle cx="420" cy="141" r="9"/></g>
<g id="n-u71" class="b"><circle cx="828" cy="53" r="7"/></g>
<g id="n-u72" class="b"><circle cx="688" cy="128" r="12"/></g>
<g id="n-u73" class="b"><circle cx="522" cy="185" r="7"/></g>
<g id="n-u74" class="b"><circle cx="407" cy="550" r="10"/></g>
<g id="n-u75" class="b"><circle cx="593" cy="340" r="12"/></g>
<g id="n-u76" class="b"><circle cx="668" cy="347" r="9"/></g>
<g id="n-u77" class="b"><circle cx="705" cy="398" r="8"/></g>
<g id="n-u78" class="b"><circle cx="667" cy="485" r="10"/></g>
<g id="n-u79" class="b"><circle cx="765" cy="330" r="8"/></g>
<g id="n-u80" class="b"><circle cx="618" cy="451" r="8"/></g>
<g id="n-u81" class="b"><circle cx="450" cy="680" r="6"/></g>
<g id="n-u82" class="b"><circle cx="660" cy="800" r="7"/></g>
<g id="n-u83" class="b"><circle cx="692" cy="691" r="6"/></g>
<g id="n-u84" class="b"><circle cx="1043" cy="266" r="7"/></g>
<g id="n-u85" class="b"><circle cx="1119" cy="248" r="7"/></g>
<g id="n-u86" class="b"><circle cx="985" cy="423" r="7"/></g>
<g id="n-u87" class="b"><circle cx="1070" cy="403" r="7"/></g>
<g id="n-u88" class="b"><circle cx="1269" cy="858" r="7"/></g>
<g id="n-u89" class="b"><circle cx="875" cy="418" r="6"/></g>
<g id="n-u90" class="b"><circle cx="541" cy="325" r="8"/></g>
<g id="n-u91" class="b"><circle cx="527" cy="407" r="14"/></g>
<g id="n-u92" class="b"><circle cx="527" cy="432" r="9"/></g>
<g id="n-u93" class="b"><circle cx="610" cy="178" r="7"/></g>
<g id="n-u94" class="b"><circle cx="757" cy="270" r="7"/></g>
<g id="n-u95" class="b"><circle cx="693" cy="593" r="7"/></g>
<g id="n-u96" class="p"><circle cx="885" cy="207" r="12"/></g>
<g id="n-u97" class="p"><circle cx="1155" cy="305" r="12"/></g>
<g id="n-u98" class="p"><circle cx="1260" cy="253" r="12"/></g>
<g id="n-u99" class="p"><circle cx="1318" cy="348" r="11"/></g>
<g id="n-u100" class="p"><circle cx="1030" cy="205" r="8"/></g>
<g id="n-u101" class="p"><circle cx="1123" cy="156" r="7"/></g>
<g id="n-u102" class="p"><circle cx="960" cy="297" r="7"/></g>
<g id="n-u103" class="p"><circle cx="1060" cy="278" r="8"/></g>
<g id="n-u104" class="p"><circle cx="990" cy="358" r="6"/></g>
<g id="n-u105" class="p"><circle cx="1040" cy="405" r="6"/></g>
<g id="n-u106" class="p"><circle cx="1168" cy="445" r="8"/></g>
<g id="n-u107" class="p"><circle cx="1050" cy="465" r="7"/></g>
<g id="n-u108" class="p"><circle cx="955" cy="611" r="6"/></g>
<g id="n-u109" class="p"><circle cx="992" cy="605" r="8"/></g>
<g id="n-u110" class="p"><circle cx="675" cy="508" r="8"/></g>
<g id="n-u111" class="p"><circle cx="553" cy="254" r="6"/></g>
<g id="n-u112" class="p"><circle cx="1232" cy="470" r="8"/></g>
<g id="n-u113" class="p"><circle cx="1175" cy="383" r="7"/></g>
<g id="n-u114" class="p"><circle cx="1225" cy="345" r="8"/></g>
<g id="n-u115" class="p"><circle cx="1140" cy="488" r="22"/></g>
<g id="n-u116" class="p"><circle cx="583" cy="407" r="12"/></g>
<g id="n-u117" class="p"><circle cx="840" cy="380" r="7"/></g>
<g id="n-u118" class="p"><circle cx="1088" cy="292" r="7"/></g>
<g id="n-u119" class="r"><circle cx="870" cy="353" r="17"/></g>
<g id="n-u120" class="r"><circle cx="817" cy="310" r="7"/></g>
<g id="n-u121" class="r"><circle cx="1265" cy="290" r="7"/></g>
<g id="n-u122" class="r"><circle cx="1197" cy="432" r="7"/></g>
<g id="n-u123" class="r"><circle cx="798" cy="503" r="7"/></g>
<g id="n-u124" class="r"><circle cx="797" cy="541" r="8"/></g>
<g id="n-u125" class="r"><circle cx="832" cy="557" r="10"/></g>
<g id="n-u126" class="r"><circle cx="911" cy="552" r="8"/></g>
<g id="n-u127" class="r"><circle cx="1047" cy="592" r="10"/></g>
<g id="n-u128" class="r"><circle cx="1060" cy="632" r="10"/></g>
<g id="n-u129" class="r"><circle cx="1160" cy="525" r="14"/></g>
<g id="n-u130" class="r"><circle cx="1143" cy="520" r="10"/></g>
<g id="n-u131" class="r"><circle cx="1180" cy="515" r="12"/></g>
<g id="n-u132" class="r"><circle cx="1248" cy="577" r="10"/></g>
<g id="n-u133" class="r"><circle cx="1358" cy="488" r="8"/></g>
<g id="n-u134" class="r"><circle cx="1365" cy="530" r="14"/></g>
<g id="n-u135" class="r"><circle cx="1365" cy="613" r="8"/></g>
<g id="n-u136" class="r"><circle cx="1228" cy="645" r="9"/></g>
<g id="n-u137" class="r"><circle cx="1336" cy="658" r="7"/></g>
<g id="n-u138" class="r"><circle cx="1388" cy="667" r="6"/></g>
<g id="n-u139" class="r"><circle cx="1362" cy="749" r="6"/></g>
<g id="n-u140" class="r"><circle cx="1299" cy="745" r="7"/></g>
<g id="n-u141" class="r"><circle cx="1290" cy="765" r="8"/></g>
<g id="n-u142" class="r"><circle cx="1245" cy="800" r="7"/></g>
<g id="n-u143" class="r"><circle cx="1210" cy="823" r="10"/></g>
<g id="n-u144" class="r"><circle cx="1166" cy="853" r="14"/></g>
<g id="n-u145" class="r"><circle cx="1200" cy="860" r="12"/></g>
<g id="n-u146" class="r"><circle cx="1155" cy="805" r="15"/></g>
<g id="n-u147" class="r"><circle cx="1070" cy="880" r="13"/></g>
<g id="n-u148" class="r"><circle cx="1058" cy="858" r="6"/></g>
<g id="n-u149" class="r"><circle cx="1140" cy="908" r="10"/></g>
<g id="n-u150" class="r"><circle cx="1191" cy="918" r="10"/></g>
<g id="n-u151" class="r"><circle cx="1289" cy="858" r="9"/></g>
<g id="n-u152" class="r"><circle cx="1170" cy="952" r="7"/></g>
<g id="n-u153" class="r"><circle cx="1250" cy="958" r="7"/></g>
<g id="n-u154" class="r"><circle cx="1087" cy="1004" r="7"/></g>
<g id="n-u155" class="r"><circle cx="1240" cy="1035" r="6"/></g>
<g id="n-u156" class="r"><circle cx="1018" cy="990" r="9"/></g>
<g id="n-u157" class="r"><circle cx="973" cy="940" r="7"/></g>
<g id="n-u158" class="r"><circle cx="929" cy="968" r="9"/></g>
<g id="n-u159" class="r"><circle cx="930" cy="1030" r="7"/></g>
<g id="n-u160" class="r"><circle cx="855" cy="1038" r="10"/></g>
<g id="n-u161" class="r"><circle cx="850" cy="950" r="9"/></g>
<g id="n-u162" class="r"><circle cx="823" cy="960" r="8"/></g>
<g id="n-u163" class="r"><circle cx="792" cy="1028" r="7"/></g>
<g id="n-u164" class="r"><circle cx="760" cy="885" r="7"/></g>
<g id="n-u165" class="r"><circle cx="725" cy="837" r="12"/></g>
<g id="n-u166" class="r"><circle cx="797" cy="895" r="7"/></g>
<g id="n-u167" class="r"><circle cx="906" cy="887" r="7"/></g>
<g id="n-u168" class="r"><circle cx="910" cy="848" r="7"/></g>
<g id="n-u169" class="r"><circle cx="922" cy="843" r="8"/></g>
<g id="n-u170" class="r"><circle cx="937" cy="853" r="8"/></g>
<g id="n-u171" class="r"><circle cx="1025" cy="800" r="8"/></g>
<g id="n-u172" class="r"><circle cx="975" cy="738" r="8"/></g>
<g id="n-u173" class="r"><circle cx="958" cy="718" r="7"/></g>
<g id="n-u174" class="r"><circle cx="1072" cy="720" r="7"/></g>
<g id="n-u175" class="r"><circle cx="919" cy="780" r="7"/></g>
<g id="n-u176" class="r"><circle cx="877" cy="698" r="8"/></g>
<g id="n-u177" class="r"><circle cx="840" cy="732" r="10"/></g>
<g id="n-u178" class="r"><circle cx="815" cy="705" r="8"/></g>
<g id="n-u179" class="r"><circle cx="782" cy="670" r="8"/></g>
<g id="n-u180" class="r"><circle cx="945" cy="660" r="6"/></g>
<g id="n-u181" class="r"><circle cx="970" cy="677" r="7"/></g>
<g id="n-u182" class="r"><circle cx="1090" cy="655" r="10"/></g>
<g id="n-u183" class="r"><circle cx="1178" cy="645" r="12"/></g>
<g id="n-u184" class="r"><circle cx="780" cy="769" r="7"/></g>
<g id="n-u185" class="r"><circle cx="1100" cy="580" r="10"/></g>
<g id="n-u186" class="r"><circle cx="1230" cy="595" r="10"/></g>
<g id="n-u187" class="r"><circle cx="1198" cy="405" r="7"/></g>

<g id="n-child-health" class="y"><circle cx="197" cy="272" r="6"/><text x="197" y="272">child health</text></g>
<g id="n-health-system" class="y"><circle cx="212" cy="332" r="9"/><text x="211" y="331">health system</text></g>
<g id="n-girl" class="b"><circle cx="388" cy="335" r="7"/><text x="388" y="331" font-size="16">girl</text></g>
<g id="n-death" class="y"><circle cx="433" cy="158" r="8"/><text x="425" y="169">death</text></g>
<g id="n-latin-america" class="y"><circle cx="593" cy="205" r="8"/><text x="590" y="202">latin america</text></g>
<g id="n-social-inequality" class="y"><circle cx="144" cy="520" r="6"/><text x="144" y="520">social inequality</text></g>
<g id="n-health-equity" class="y"><circle cx="142" cy="553" r="7"/><text x="142" y="553">health equity</text></g>
<g id="n-health-inequity" class="y"><circle cx="144" cy="647" r="6"/><text x="144" y="647">health inequity</text></g>
<g id="n-democracy" class="y"><circle cx="277" cy="638" r="6"/><text x="277" y="638">democracy</text></g>
<g id="n-resilience" class="y"><circle cx="369" cy="632" r="7"/><text x="369" y="632">resilience</text></g>
<g id="n-advocacy" class="y"><circle cx="106" cy="690" r="7"/><text x="106" y="690">advocacy</text></g>
<g id="n-failure" class="y"><circle cx="445" cy="773" r="8"/><text x="441" y="757">failure</text></g>
<g id="n-january" class="y"><circle cx="113" cy="911" r="7"/><text x="113" y="911">january</text></g>
<g id="n-funding" class="y"><circle cx="783" cy="476" r="8"/><text x="783" y="476">funding</text></g>
<g id="n-key-area" class="y"><circle cx="690" cy="1060" r="6"/><text x="680" y="1068" font-size="16">key area</text></g>

<g id="n-good-governance" class="g"><circle cx="174" cy="741" r="7"/><text x="164" y="752" font-size="16">good governance</text></g>
<g id="n-development-study" class="g"><circle cx="273" cy="946" r="6"/><text x="273" y="946">development study</text></g>
<g id="n-voice" class="g"><circle cx="279" cy="855" r="7"/><text x="279" y="855">voice</text></g>
<g id="n-delivery" class="g"><circle cx="323" cy="891" r="8"/><text x="323" y="891" font-size="18">delivery</text></g>
<g id="n-commentary" class="g"><circle cx="441" cy="887" r="9"/><text x="441" y="887">commentary</text></g>
<g id="n-geography" class="g"><circle cx="416" cy="955" r="9"/><text x="416" y="955">geography</text></g>
<g id="n-shift" class="g"><circle cx="451" cy="1017" r="8"/><text x="451" y="1017" font-size="18">shift</text></g>
<g id="n-global-governance" class="g"><circle cx="400" cy="1061" r="7"/><text x="400" y="1061" font-size="18">global governance</text></g>
<g id="n-international-development" class="g"><circle cx="363" cy="1094" r="7"/><text x="363" y="1094" font-size="18">international development</text></g>
<g id="n-framing" class="g"><circle cx="590" cy="1097" r="7"/><text x="590" y="1097" font-size="18">framing</text></g>
<g id="n-motivation" class="g"><circle cx="722" cy="1128" r="6"/><text x="722" y="1128">motivation</text></g>
<g id="n-policy-implication" class="g"><circle cx="793" cy="1176" r="8"/><text x="793" y="1176" font-size="18">policy implication</text></g>
<g id="n-further-research" class="g"><circle cx="928" cy="1124" r="7"/><text x="928" y="1124">further research</text></g>
<g id="n-content-analysis" class="g"><circle cx="925" cy="1085" r="10"/><text x="928" y="1080" font-size="18">content analysis</text></g>
<g id="n-local-context" class="g"><circle cx="991" cy="1043" r="7"/><text x="991" y="1043" font-size="16">local context</text></g>
<g id="n-metric" class="g"><circle cx="801" cy="1012" r="8"/><text x="801" y="1012" font-size="19">metric</text></g>
<g id="n-content" class="g"><circle cx="697" cy="987" r="9"/><text x="697" y="987" font-size="19">content</text></g>
<g id="n-sustainable-development-agenda" class="g"><circle cx="727" cy="934" r="8"/><text x="727" y="934" font-size="19">sustainable development agenda</text></g>
<g id="n-earth" class="g"><circle cx="796" cy="834" r="5"/><text x="796" y="834" font-size="16">earth</text></g>
<g id="n-mapping" class="g"><circle cx="938" cy="767" r="6"/><text x="938" y="767" font-size="16">mapping</text></g>
<g id="n-kind" class="g"><circle cx="842" cy="696" r="8"/><text x="842" y="696" font-size="18">kind</text></g>
<g id="n-budget" class="g"><circle cx="840" cy="643" r="7"/><text x="857" y="637">budget</text></g>
<g id="n-climate" class="g"><circle cx="1029" cy="622" r="9"/><text x="1029" y="622" font-size="18">climate</text></g>
<g id="n-contrast" class="g"><circle cx="1029" cy="381" r="6"/><text x="1029" y="381">contrast</text></g>
<g id="n-advantage" class="g"><circle cx="664" cy="683" r="8"/><text x="664" y="683">advantage</text></g>
<g id="n-blueprint" class="g"><circle cx="519" cy="723" r="8"/><text x="519" y="723">blueprint</text></g>
<g id="n-assumption" class="g"><circle cx="655" cy="758" r="11"/><text x="647" y="764">assumption</text></g>
<g id="n-humanity" class="g"><circle cx="786" cy="729" r="12"/><text x="786" y="729" font-size="19">humanity</text></g>
<g id="n-student" class="g"><circle cx="581" cy="508" r="10"/><text x="581" y="508" font-size="18">student</text></g>
<g id="n-university" class="g"><circle cx="598" cy="595" r="12"/><text x="598" y="595" font-size="18">university</text></g>

<g id="n-south-asia" class="b"><circle cx="678" cy="23" r="7"/><text x="678" y="23">south asia</text></g>
<g id="n-pace" class="b"><circle cx="852" cy="121" r="7"/><text x="852" y="121" font-size="16">pace</text></g>
<g id="n-population-growth" class="b"><circle cx="594" cy="151" r="4"/><text x="594" y="151">population growth</text></g>
<g id="n-violence" class="b"><circle cx="416" cy="220" r="6"/><text x="416" y="220">violence</text></g>
<g id="n-international-level" class="b"><circle cx="752" cy="285" r="4"/><text x="752" y="285">international level</text></g>
<g id="n-turn" class="b"><circle cx="705" cy="317" r="8"/><text x="705" y="317" font-size="18">turn</text></g>
<g id="n-african-country" class="b"><circle cx="512" cy="318" r="8"/><text x="512" y="318">african country</text></g>
<g id="n-realisation" class="b"><circle cx="760" cy="445" r="8"/><text x="760" y="445">realisation</text></g>
<g id="n-domain" class="b"><circle cx="483" cy="402" r="6"/><text x="483" y="402" font-size="19">domain</text></g>
<g id="n-protection" class="b"><circle cx="510" cy="447" r="6"/><text x="510" y="447" font-size="19">protection</text></g>
<g id="n-disparity" class="b"><circle cx="472" cy="499" r="8"/><text x="472" y="499" font-size="18">disparity</text></g>
<g id="n-future-generation" class="b"><circle cx="732" cy="571" r="4"/><text x="732" y="571">future generation</text></g>
<g id="n-force" class="b"><circle cx="637" cy="733" r="10"/><text x="637" y="733" font-size="18">force</text></g>
<g id="n-share" class="b"><circle cx="1105" cy="369" r="8"/><text x="1105" y="369">share</text></g>
<g id="n-international-community" class="b"><circle cx="543" cy="555" r="12"/><text x="543" y="555" font-size="19">international community</text></g>
<g id="n-empowerment" class="b"><circle cx="465" cy="369" r="13"/><text x="465" y="369" font-size="19">empowerment</text></g>
<g id="n-mdg" class="b"><circle cx="237" cy="476" r="12"/><text x="239" y="476" font-size="19">mdg</text></g>
<g id="n-proportion" class="b"><circle cx="688" cy="207" r="12"/><text x="699" y="203" font-size="19">proportion</text></g>
<g id="n-agriculture" class="b"><circle cx="805" cy="193" r="14"/><text x="806" y="193" font-size="19">agriculture</text></g>
<g id="n-nutrition" class="b"><circle cx="508" cy="122" r="12"/><text x="508" y="123" font-size="19">nutrition</text></g>
<g id="n-sub-saharan-africa" class="b"><circle cx="607" cy="88" r="10"/><text x="610" y="88" font-size="20">sub saharan africa</text></g>

<g id="n-zero-hunger" class="p"><circle cx="1078" cy="12" r="7"/><text x="1080" y="12">zero hunger</text></g>
<g id="n-sdg2" class="p"><circle cx="1040" cy="49" r="7"/><text x="1040" y="49">sdg2</text></g>
<g id="n-sdg3" class="p"><circle cx="822" cy="35" r="6"/><text x="822" y="35">sdg3</text></g>
<g id="n-sdg1" class="p"><circle cx="1107" cy="186" r="6"/><text x="1107" y="186">sdg1</text></g>
<g id="n-sdg4" class="p"><circle cx="978" cy="266" r="6"/><text x="978" y="266">sdg4</text></g>
<g id="n-environmental-goal" class="p"><circle cx="1386" cy="392" r="7"/><text x="1386" y="392" font-size="16">environmental goal</text></g>
<g id="n-clean-energy" class="p"><circle cx="1408" cy="297" r="9"/><text x="1408" y="297">clean energy</text></g>
<g id="n-responsible-consumption" class="p"><circle cx="1265" cy="131" r="8"/><text x="1267" y="131" font-size="18">responsible consumption</text></g>
<g id="n-land" class="p"><circle cx="1200" cy="167" r="10"/><text x="1200" y="167" font-size="19">land</text></g>
<g id="n-wellbeing" class="p"><circle cx="668" cy="240" r="8"/><text x="672" y="240" font-size="19">wellbeing</text></g>
<g id="n-basic-need" class="p"><circle cx="643" cy="408" r="4"/><text x="643" y="408">basic need</text></g>
<g id="n-nigeria" class="p"><circle cx="794" cy="521" r="8"/><text x="794" y="521">nigeria</text></g>
<g id="n-asia" class="p"><circle cx="898" cy="326" r="8"/><text x="898" y="326" font-size="18">asia</text></g>
<g id="n-key-challenge" class="p"><circle cx="907" cy="376" r="4"/><text x="907" y="376">key challenge</text></g>
<g id="n-availability" class="p"><circle cx="917" cy="429" r="7"/><text x="917" y="429" font-size="19">availability</text></g>
<g id="n-good-health" class="p"><circle cx="1047" cy="95" r="12"/><text x="1047" y="95" font-size="20">good health</text></g>
<g id="n-quality-education" class="p"><circle cx="994" cy="143" r="12"/><text x="994" y="143" font-size="20">quality education</text></g>
<g id="n-climate-action" class="p"><circle cx="1196" cy="276" r="13"/><text x="1196" y="276" font-size="19">climate action</text></g>
<g id="n-decent-work" class="p"><circle cx="1258" cy="325" r="10"/><text x="1257" y="326" font-size="19">decent work</text></g>
<g id="n-total" class="p"><circle cx="1035" cy="240" r="19"/><text x="1070" y="229">total</text></g>

<g id="n-list" class="r"><circle cx="955" cy="889" r="7"/><text x="955" y="889" font-size="16">list</text></g>
<g id="n-opinion" class="r"><circle cx="1005" cy="875" r="8"/><text x="1005" y="875">opinion</text></g>
<g id="n-stage" class="r"><circle cx="906" cy="920" r="8"/><text x="906" y="920" font-size="18">stage</text></g>
<g id="n-bottom" class="r"><circle cx="913" cy="984" r="7"/><text x="913" y="984" font-size="16">bottom</text></g>
<g id="n-decision-making" class="r"><circle cx="971" cy="1013" r="10"/><text x="971" y="1013" font-size="18">decision making</text></g>
<g id="n-localization" class="r"><circle cx="1043" cy="1148" r="7"/><text x="1043" y="1148">localization</text></g>
<g id="n-methodological-approach" class="r"><circle cx="1180" cy="1036" r="7"/><text x="1180" y="1036">methodological approach</text></g>
<g id="n-un-general-assembly" class="r"><circle cx="1148" cy="1001" r="7"/><text x="1148" y="1001">un general assembly</text></g>
<g id="n-ministry" class="r"><circle cx="1140" cy="970" r="7"/><text x="1140" y="970">ministry</text></g>
<g id="n-policy-coherence" class="r"><circle cx="1272" cy="944" r="7"/><text x="1272" y="944">policy coherence</text></g>
<g id="n-originality-value" class="r"><circle cx="1298" cy="912" r="8"/><text x="1298" y="912">originality value</text></g>
<g id="n-selection" class="r"><circle cx="1250" cy="880" r="9"/><text x="1250" y="880">selection</text></g>
<g id="n-sdg-index" class="r"><circle cx="1428" cy="856" r="7"/><text x="1428" y="856">sdg index</text></g>
<g id="n-global-indicator-framework" class="r"><circle cx="1308" cy="827" r="7"/><text x="1308" y="827">global indicator framework</text></g>
<g id="n-research-gap" class="r"><circle cx="1107" cy="841" r="8"/><text x="1107" y="841">research gap</text></g>
<g id="n-show" class="r"><circle cx="1122" cy="786" r="7"/><text x="1122" y="786">show</text></g>
<g id="n-alternative" class="r"><circle cx="1041" cy="780" r="7"/><text x="1041" y="780" font-size="16">alternative</text></g>
<g id="n-regulation" class="r"><circle cx="1021" cy="748" r="8"/><text x="1021" y="748">regulation</text></g>
<g id="n-public" class="r"><circle cx="916" cy="680" r="7"/><text x="916" y="680" font-size="16">public</text></g>
<g id="n-sdg-interaction" class="r"><circle cx="1495" cy="721" r="7"/><text x="1495" y="721" font-size="18">sdg interaction</text></g>
<g id="n-province" class="r"><circle cx="1316" cy="725" r="8"/><text x="1316" y="725" font-size="18">province</text></g>
<g id="n-sdg-progress" class="r"><circle cx="1335" cy="679" r="8"/><text x="1335" y="679" font-size="16">sdg progress</text></g>
<g id="n-compliance" class="r"><circle cx="1118" cy="641" r="9"/><text x="1118" y="641" font-size="16">compliance</text></g>
<g id="n-urgency" class="r"><circle cx="1136" cy="546" r="9"/><text x="1136" y="546" font-size="16">urgency</text></g>
<g id="n-nexus" class="r"><circle cx="996" cy="546" r="6"/><text x="996" y="546">nexus</text></g>
<g id="n-europe" class="r"><circle cx="864" cy="573" r="8"/><text x="864" y="573" font-size="19">europe</text></g>
<g id="n-natural-resource" class="r"><circle cx="901" cy="466" r="10"/><text x="901" y="466" font-size="19">natural resource</text></g>
<g id="n-proposal" class="r"><circle cx="819" cy="888" r="10"/><text x="819" y="888" font-size="19">proposal</text></g>
<g id="n-task" class="r"><circle cx="1031" cy="925" r="10"/><text x="1031" y="925" font-size="20">task</text></g>
<g id="n-local-level" class="r"><circle cx="1007" cy="960" r="12"/><text x="1007" y="960" font-size="20">local level</text></g>
<g id="n-strength" class="r"><circle cx="978" cy="817" r="12"/><text x="978" y="817" font-size="20">strength</text></g>
<g id="n-alignment" class="r"><circle cx="1120" cy="918" r="12"/><text x="1120" y="918" font-size="19">alignment</text></g>
<g id="n-degree" class="r"><circle cx="1253" cy="759" r="10"/><text x="1253" y="759" font-size="20">degree</text></g>
<g id="n-china" class="r"><circle cx="1183" cy="757" r="12"/><text x="1183" y="757" font-size="21">china</text></g>
<g id="n-statistic" class="r"><circle cx="990" cy="703" r="12"/><text x="990" y="703" font-size="21">statistic</text></g>
<g id="n-planning" class="r"><circle cx="1136" cy="883" r="14"/><text x="1136" y="883" font-size="21">planning</text></g>
<g id="n-industry" class="r"><circle cx="1206" cy="793" r="16"/><text x="1206" y="793" font-size="21">industry</text></g>

<g id="n-september" class="g"><circle cx="625" cy="836" r="10"/><text x="625" y="836" font-size="21">september</text></g>
<g id="n-book" class="g"><circle cx="510" cy="833" r="12"/><text x="510" y="833" font-size="20">book</text></g>
<g id="n-power" class="g"><circle cx="462" cy="791" r="12"/><text x="462" y="791" font-size="21">power</text></g>
<g id="n-law" class="g"><circle cx="523" cy="767" r="14"/><text x="523" y="767" font-size="21">law</text></g>
<g id="n-politic" class="g"><circle cx="547" cy="1068" r="13"/><text x="547" y="1068" font-size="20">politic</text></g>
<g id="n-paradigm" class="g"><circle cx="433" cy="985" r="14"/><text x="433" y="985" font-size="21">paradigm</text></g>
<g id="n-idea" class="g"><circle cx="496" cy="925" r="14"/><text x="496" y="925" font-size="21">idea</text></g>
<g id="n-accountability" class="g"><circle cx="393" cy="847" r="16"/><text x="393" y="847" font-size="22">accountability</text></g>
<g id="n-debate" class="g"><circle cx="605" cy="976" r="18"/><text x="605" y="976" font-size="23">debate</text></g>
<g id="n-actor" class="g"><circle cx="610" cy="1048" r="22"/><text x="610" y="1048" font-size="24">actor</text></g>
<g id="n-right" class="g"><circle cx="320" cy="524" r="22"/><text x="320" y="524" font-size="24">right</text></g>
<g id="n-human-right" class="g"><circle cx="331" cy="718" r="24"/><text x="331" y="718" font-size="25">human right</text></g>

<g id="n-equity" class="y"><circle cx="393" cy="520" r="11"/><text x="393" y="522" font-size="22">equity</text></g>
<g id="n-child" class="y"><circle cx="343" cy="299" r="14"/><text x="343" y="299" font-size="21">child</text></g>
<g id="n-disease" class="y"><circle cx="262" cy="400" r="16"/><text x="262" y="400" font-size="21">disease</text></g>
<g id="n-service" class="y"><circle cx="580" cy="377" r="16"/><text x="580" y="377" font-size="22">service</text></g>
<g id="n-prosperity" class="y"><circle cx="522" cy="671" r="14"/><text x="522" y="671" font-size="22">prosperity</text></g>
<g id="n-crisis" class="y"><circle cx="710" cy="539" r="16"/><text x="710" y="539" font-size="23">crisis</text></g>
<g id="n-planet" class="y"><circle cx="605" cy="797" r="15"/><text x="605" y="797" font-size="23">planet</text></g>
<g id="n-partnership" class="y"><circle cx="641" cy="894" r="18"/><text x="641" y="894" font-size="23">partnership</text></g>
<g id="n-pandemic" class="y"><circle cx="788" cy="340" r="17"/><text x="788" y="340" font-size="23">pandemic</text></g>
<g id="n-covid" class="y"><circle cx="768" cy="391" r="20"/><text x="768" y="391" font-size="24">covid</text></g>
<g id="n-access" class="y"><circle cx="634" cy="323" r="24"/><text x="634" y="323" font-size="25">access</text></g>

<g id="n-woman" class="b"><circle cx="519" cy="280" r="16"/><text x="519" y="279" font-size="21">woman</text></g>
<g id="n-cooperation" class="b"><circle cx="717" cy="618" r="15"/><text x="717" y="618" font-size="21">cooperation</text></g>
<g id="n-member-state" class="b"><circle cx="790" cy="802" r="18"/><text x="793" y="802" font-size="23">member state</text></g>
<g id="n-gender-equality" class="b"><circle cx="818" cy="240" r="18"/><text x="820" y="238" font-size="22">gender equality</text></g>
<g id="n-hunger" class="b"><circle cx="775" cy="138" r="21"/><text x="775" y="152" font-size="22">hunger</text></g>
<g id="n-africa" class="b"><circle cx="653" cy="463" r="22"/><text x="653" y="466" font-size="24">africa</text></g>

<g id="n-energy" class="p"><circle cx="1212" cy="531" r="14"/><text x="1212" y="531" font-size="21">energy</text></g>
<g id="n-infrastructure" class="p"><circle cx="1107" cy="322" r="20"/><text x="1107" y="320" font-size="23">infrastructure</text></g>
<g id="n-water" class="p"><circle cx="968" cy="222" r="21"/><text x="970" y="221" font-size="24">water</text></g>
<g id="n-economic-growth" class="p"><circle cx="1115" cy="460" r="24"/><text x="1107" y="459" font-size="24">economic growth</text></g>

<g id="n-city" class="r"><circle cx="1077" cy="966" r="18"/><text x="1077" y="966" font-size="23">city</text></g>
<g id="n-trade-off" class="r"><circle cx="1330" cy="514" r="21"/><text x="1330" y="514" font-size="24">trade off</text></g>
<g id="n-synergy" class="r"><circle cx="1275" cy="459" r="22"/><text x="1275" y="459" font-size="25">synergy</text></g>
<g id="n-interaction-2" class="r"><circle cx="1268" cy="660" r="21"/></g>
<g id="n-interaction" class="r"><circle cx="1318" cy="620" r="22"/><text x="1297" y="625" font-size="24">interaction</text></g>
<g id="n-performance" class="r"><circle cx="1138" cy="683" r="24"/><text x="1138" y="683" font-size="25">performance</text></g>
<g id="n-assessment" class="r"><circle cx="1157" cy="598" r="26"/><text x="1157" y="598" font-size="26">assessment</text></g>

<g id="n-millennium-development-goal" class="b"><circle cx="360" cy="580" r="30"/><text x="362" y="593" font-size="26">millennium development goal</text></g>
<g id="n-health" class="y"><circle cx="373" cy="423" r="36"/><text x="373" y="423" font-size="30">health</text></g>
</g>
</g>
</svg>
